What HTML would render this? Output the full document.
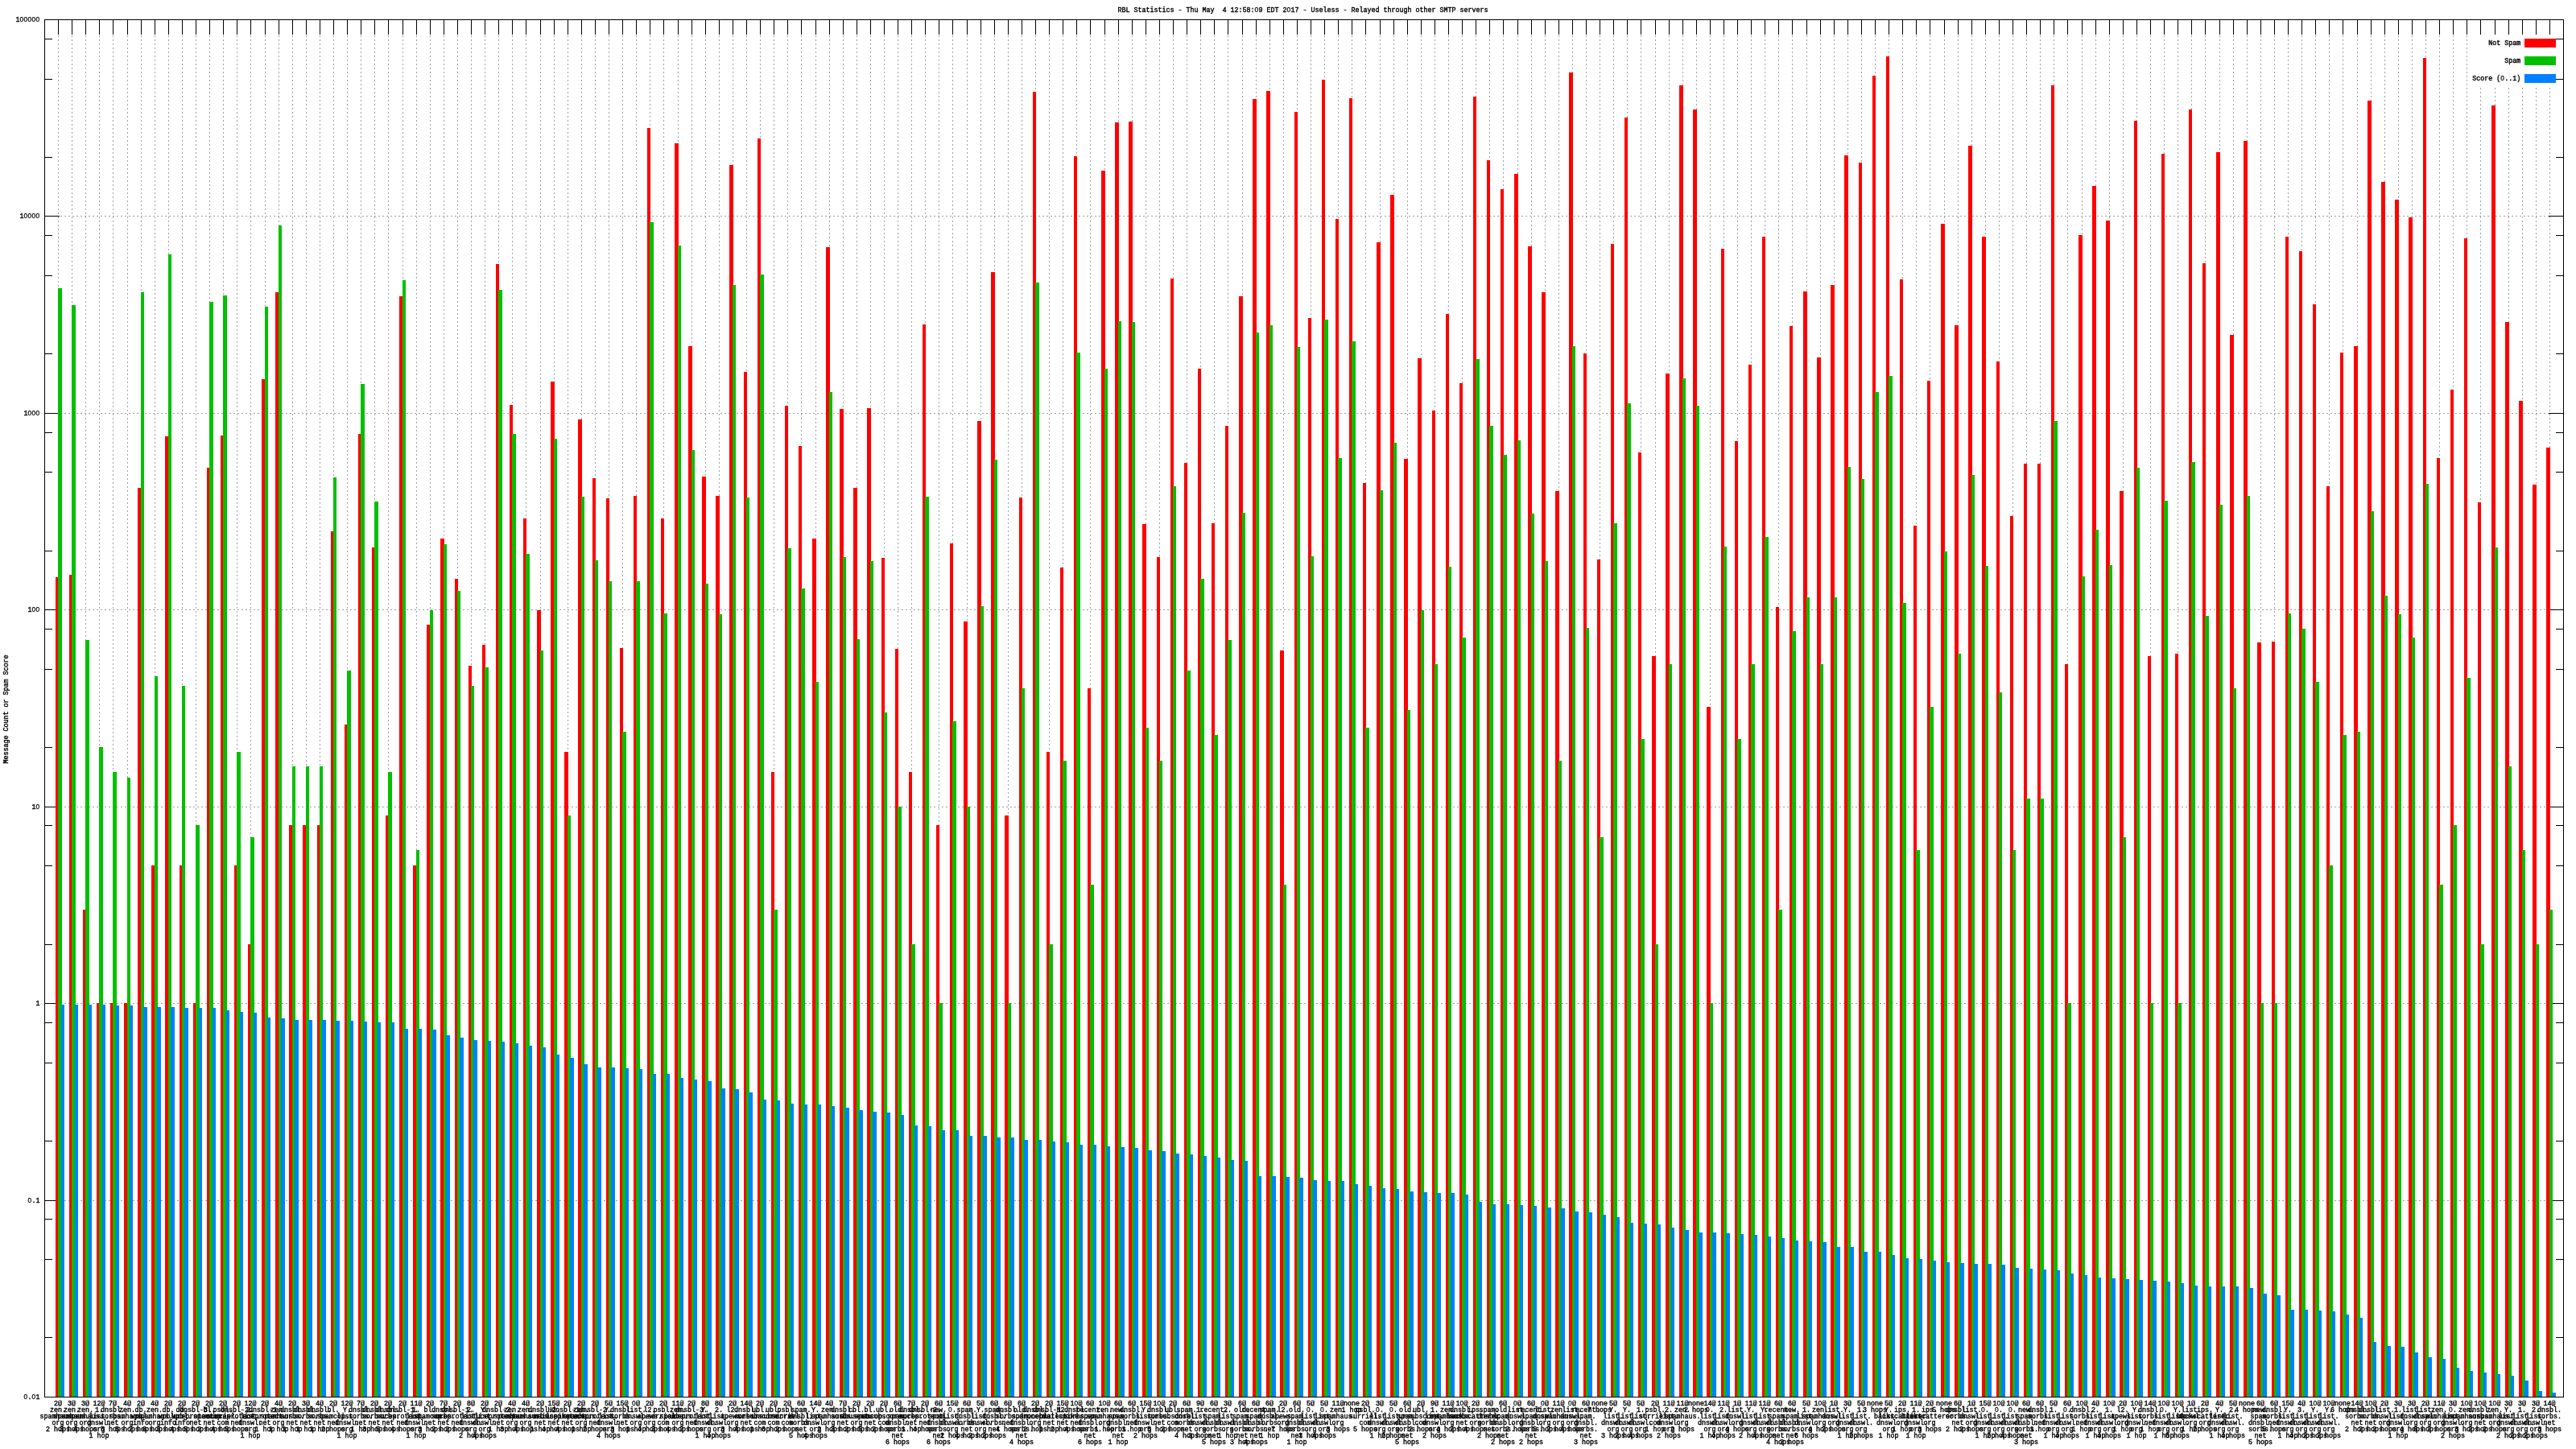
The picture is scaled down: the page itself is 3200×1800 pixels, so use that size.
<!DOCTYPE html>
<html lang="en"><head><meta charset="utf-8"><title>RBL Statistics</title>
<style>html,body{margin:0;padding:0;background:#fff}svg{display:block}text{font-family:'Liberation Mono','DejaVu Sans Mono',monospace;font-size:8.33px;fill:#000;stroke:#000;stroke-width:.4px}.m{text-anchor:middle}.e{text-anchor:end}.z{font-family:'Liberation Sans',sans-serif;font-size:8.4px;letter-spacing:.33px;stroke-width:.25px}.a{stroke-width:.18px}</style></head><body>
<svg width="3200" height="1800" viewBox="0 0 3200 1800" style="will-change:transform">
<g shape-rendering="crispEdges" stroke="#a0a0a0" stroke-width="1" fill="none" stroke-dasharray="2 3">
<path d="M72.5 44V1735M89.5 44V1735M106.5 44V1735M123.5 44V1735M140.5 44V1735M158.5 44V1735M175.5 44V1735M192.5 44V1735M209.5 44V1735M226.5 44V1735M243.5 44V1735M260.5 44V1735M277.5 44V1735M294.5 44V1735M311.5 44V1735M329.5 44V1735M346.5 44V1735M363.5 44V1735M380.5 44V1735M397.5 44V1735M414.5 44V1735M431.5 44V1735M448.5 44V1735M465.5 44V1735M482.5 44V1735M500.5 44V1735M517.5 44V1735M534.5 44V1735M551.5 44V1735M568.5 44V1735M585.5 44V1735M602.5 44V1735M619.5 44V1735M636.5 44V1735M653.5 44V1735M671.5 44V1735M688.5 44V1735M705.5 44V1735M722.5 44V1735M739.5 44V1735M756.5 44V1735M773.5 44V1735M790.5 44V1735M807.5 44V1735M824.5 44V1735M842.5 44V1735M859.5 44V1735M876.5 44V1735M893.5 44V1735M910.5 44V1735M927.5 44V1735M944.5 44V1735M961.5 44V1735M978.5 44V1735M995.5 44V1735M1013.5 44V1735M1030.5 44V1735M1047.5 44V1735M1064.5 44V1735M1081.5 44V1735M1098.5 44V1735M1115.5 44V1735M1132.5 44V1735M1149.5 44V1735M1166.5 44V1735M1183.5 44V1735M1201.5 44V1735M1218.5 44V1735M1235.5 44V1735M1252.5 44V1735M1269.5 44V1735M1286.5 44V1735M1303.5 44V1735M1320.5 44V1735M1337.5 44V1735M1354.5 44V1735M1372.5 44V1735M1389.5 44V1735M1406.5 44V1735M1423.5 44V1735M1440.5 44V1735M1457.5 44V1735M1474.5 44V1735M1491.5 44V1735M1508.5 44V1735M1525.5 44V1735M1543.5 44V1735M1560.5 44V1735M1577.5 44V1735M1594.5 44V1735M1611.5 44V1735M1628.5 44V1735M1645.5 44V1735M1662.5 44V1735M1679.5 44V1735M1696.5 44V1735M1714.5 44V1735M1731.5 44V1735M1748.5 44V1735M1765.5 44V1735M1782.5 44V1735M1799.5 44V1735M1816.5 44V1735M1833.5 44V1735M1850.5 44V1735M1867.5 44V1735M1885.5 44V1735M1902.5 44V1735M1919.5 44V1735M1936.5 44V1735M1953.5 44V1735M1970.5 44V1735M1987.5 44V1735M2004.5 44V1735M2021.5 44V1735M2038.5 44V1735M2056.5 44V1735M2073.5 44V1735M2090.5 44V1735M2107.5 44V1735M2124.5 44V1735M2141.5 44V1735M2158.5 44V1735M2175.5 44V1735M2192.5 44V1735M2209.5 44V1735M2226.5 44V1735M2244.5 44V1735M2261.5 44V1735M2278.5 44V1735M2295.5 44V1735M2312.5 44V1735M2329.5 44V1735M2346.5 44V1735M2363.5 44V1735M2380.5 44V1735M2397.5 44V1735M2415.5 44V1735M2432.5 44V1735M2449.5 44V1735M2466.5 44V1735M2483.5 44V1735M2500.5 44V1735M2517.5 44V1735M2534.5 44V1735M2551.5 44V1735M2568.5 44V1735M2586.5 44V1735M2603.5 44V1735M2620.5 44V1735M2637.5 44V1735M2654.5 44V1735M2671.5 44V1735M2688.5 44V1735M2705.5 44V1735M2722.5 44V1735M2739.5 44V1735M2757.5 44V1735M2774.5 44V1735M2791.5 44V1735M2808.5 44V1735M2825.5 44V1735M2842.5 44V1735M2859.5 44V1735M2876.5 44V1735M2893.5 44V1735M2910.5 44V1735M2928.5 44V1735M2945.5 44V1735M2962.5 44V1735M2979.5 44V1735M2996.5 44V1735M3013.5 44V1735M3030.5 44V1735M3047.5 44V1735M3064.5 44V1735M3081.5 44V1735M3099.5 44V1735M3116.5 44V1735M3133.5 44V1735M3150.5 44V1735M3167.5 44V1735"/>
<path d="M75 1491.5H3166M75 1246.5H3166M75 1002.5H3166M75 757.5H3166M75 513.5H3166M75 268.5H3166"/>
</g>
<rect x="3068" y="43" width="116" height="65" fill="#fff"/>
<g shape-rendering="crispEdges" fill="#000">
<rect x="72" y="24" width="1" height="19"/>
<rect x="89" y="24" width="1" height="19"/>
<rect x="106" y="24" width="1" height="19"/>
<rect x="123" y="24" width="1" height="19"/>
<rect x="140" y="24" width="1" height="19"/>
<rect x="158" y="24" width="1" height="19"/>
<rect x="175" y="24" width="1" height="19"/>
<rect x="192" y="24" width="1" height="19"/>
<rect x="209" y="24" width="1" height="19"/>
<rect x="226" y="24" width="1" height="19"/>
<rect x="243" y="24" width="1" height="19"/>
<rect x="260" y="24" width="1" height="19"/>
<rect x="277" y="24" width="1" height="19"/>
<rect x="294" y="24" width="1" height="19"/>
<rect x="311" y="24" width="1" height="19"/>
<rect x="329" y="24" width="1" height="19"/>
<rect x="346" y="24" width="1" height="19"/>
<rect x="363" y="24" width="1" height="19"/>
<rect x="380" y="24" width="1" height="19"/>
<rect x="397" y="24" width="1" height="19"/>
<rect x="414" y="24" width="1" height="19"/>
<rect x="431" y="24" width="1" height="19"/>
<rect x="448" y="24" width="1" height="19"/>
<rect x="465" y="24" width="1" height="19"/>
<rect x="482" y="24" width="1" height="19"/>
<rect x="500" y="24" width="1" height="19"/>
<rect x="517" y="24" width="1" height="19"/>
<rect x="534" y="24" width="1" height="19"/>
<rect x="551" y="24" width="1" height="19"/>
<rect x="568" y="24" width="1" height="19"/>
<rect x="585" y="24" width="1" height="19"/>
<rect x="602" y="24" width="1" height="19"/>
<rect x="619" y="24" width="1" height="19"/>
<rect x="636" y="24" width="1" height="19"/>
<rect x="653" y="24" width="1" height="19"/>
<rect x="671" y="24" width="1" height="19"/>
<rect x="688" y="24" width="1" height="19"/>
<rect x="705" y="24" width="1" height="19"/>
<rect x="722" y="24" width="1" height="19"/>
<rect x="739" y="24" width="1" height="19"/>
<rect x="756" y="24" width="1" height="19"/>
<rect x="773" y="24" width="1" height="19"/>
<rect x="790" y="24" width="1" height="19"/>
<rect x="807" y="24" width="1" height="19"/>
<rect x="824" y="24" width="1" height="19"/>
<rect x="842" y="24" width="1" height="19"/>
<rect x="859" y="24" width="1" height="19"/>
<rect x="876" y="24" width="1" height="19"/>
<rect x="893" y="24" width="1" height="19"/>
<rect x="910" y="24" width="1" height="19"/>
<rect x="927" y="24" width="1" height="19"/>
<rect x="944" y="24" width="1" height="19"/>
<rect x="961" y="24" width="1" height="19"/>
<rect x="978" y="24" width="1" height="19"/>
<rect x="995" y="24" width="1" height="19"/>
<rect x="1013" y="24" width="1" height="19"/>
<rect x="1030" y="24" width="1" height="19"/>
<rect x="1047" y="24" width="1" height="19"/>
<rect x="1064" y="24" width="1" height="19"/>
<rect x="1081" y="24" width="1" height="19"/>
<rect x="1098" y="24" width="1" height="19"/>
<rect x="1115" y="24" width="1" height="19"/>
<rect x="1132" y="24" width="1" height="19"/>
<rect x="1149" y="24" width="1" height="19"/>
<rect x="1166" y="24" width="1" height="19"/>
<rect x="1183" y="24" width="1" height="19"/>
<rect x="1201" y="24" width="1" height="19"/>
<rect x="1218" y="24" width="1" height="19"/>
<rect x="1235" y="24" width="1" height="19"/>
<rect x="1252" y="24" width="1" height="19"/>
<rect x="1269" y="24" width="1" height="19"/>
<rect x="1286" y="24" width="1" height="19"/>
<rect x="1303" y="24" width="1" height="19"/>
<rect x="1320" y="24" width="1" height="19"/>
<rect x="1337" y="24" width="1" height="19"/>
<rect x="1354" y="24" width="1" height="19"/>
<rect x="1372" y="24" width="1" height="19"/>
<rect x="1389" y="24" width="1" height="19"/>
<rect x="1406" y="24" width="1" height="19"/>
<rect x="1423" y="24" width="1" height="19"/>
<rect x="1440" y="24" width="1" height="19"/>
<rect x="1457" y="24" width="1" height="19"/>
<rect x="1474" y="24" width="1" height="19"/>
<rect x="1491" y="24" width="1" height="19"/>
<rect x="1508" y="24" width="1" height="19"/>
<rect x="1525" y="24" width="1" height="19"/>
<rect x="1543" y="24" width="1" height="19"/>
<rect x="1560" y="24" width="1" height="19"/>
<rect x="1577" y="24" width="1" height="19"/>
<rect x="1594" y="24" width="1" height="19"/>
<rect x="1611" y="24" width="1" height="19"/>
<rect x="1628" y="24" width="1" height="19"/>
<rect x="1645" y="24" width="1" height="19"/>
<rect x="1662" y="24" width="1" height="19"/>
<rect x="1679" y="24" width="1" height="19"/>
<rect x="1696" y="24" width="1" height="19"/>
<rect x="1714" y="24" width="1" height="19"/>
<rect x="1731" y="24" width="1" height="19"/>
<rect x="1748" y="24" width="1" height="19"/>
<rect x="1765" y="24" width="1" height="19"/>
<rect x="1782" y="24" width="1" height="19"/>
<rect x="1799" y="24" width="1" height="19"/>
<rect x="1816" y="24" width="1" height="19"/>
<rect x="1833" y="24" width="1" height="19"/>
<rect x="1850" y="24" width="1" height="19"/>
<rect x="1867" y="24" width="1" height="19"/>
<rect x="1885" y="24" width="1" height="19"/>
<rect x="1902" y="24" width="1" height="19"/>
<rect x="1919" y="24" width="1" height="19"/>
<rect x="1936" y="24" width="1" height="19"/>
<rect x="1953" y="24" width="1" height="19"/>
<rect x="1970" y="24" width="1" height="19"/>
<rect x="1987" y="24" width="1" height="19"/>
<rect x="2004" y="24" width="1" height="19"/>
<rect x="2021" y="24" width="1" height="19"/>
<rect x="2038" y="24" width="1" height="19"/>
<rect x="2056" y="24" width="1" height="19"/>
<rect x="2073" y="24" width="1" height="19"/>
<rect x="2090" y="24" width="1" height="19"/>
<rect x="2107" y="24" width="1" height="19"/>
<rect x="2124" y="24" width="1" height="19"/>
<rect x="2141" y="24" width="1" height="19"/>
<rect x="2158" y="24" width="1" height="19"/>
<rect x="2175" y="24" width="1" height="19"/>
<rect x="2192" y="24" width="1" height="19"/>
<rect x="2209" y="24" width="1" height="19"/>
<rect x="2226" y="24" width="1" height="19"/>
<rect x="2244" y="24" width="1" height="19"/>
<rect x="2261" y="24" width="1" height="19"/>
<rect x="2278" y="24" width="1" height="19"/>
<rect x="2295" y="24" width="1" height="19"/>
<rect x="2312" y="24" width="1" height="19"/>
<rect x="2329" y="24" width="1" height="19"/>
<rect x="2346" y="24" width="1" height="19"/>
<rect x="2363" y="24" width="1" height="19"/>
<rect x="2380" y="24" width="1" height="19"/>
<rect x="2397" y="24" width="1" height="19"/>
<rect x="2415" y="24" width="1" height="19"/>
<rect x="2432" y="24" width="1" height="19"/>
<rect x="2449" y="24" width="1" height="19"/>
<rect x="2466" y="24" width="1" height="19"/>
<rect x="2483" y="24" width="1" height="19"/>
<rect x="2500" y="24" width="1" height="19"/>
<rect x="2517" y="24" width="1" height="19"/>
<rect x="2534" y="24" width="1" height="19"/>
<rect x="2551" y="24" width="1" height="19"/>
<rect x="2568" y="24" width="1" height="19"/>
<rect x="2586" y="24" width="1" height="19"/>
<rect x="2603" y="24" width="1" height="19"/>
<rect x="2620" y="24" width="1" height="19"/>
<rect x="2637" y="24" width="1" height="19"/>
<rect x="2654" y="24" width="1" height="19"/>
<rect x="2671" y="24" width="1" height="19"/>
<rect x="2688" y="24" width="1" height="19"/>
<rect x="2705" y="24" width="1" height="19"/>
<rect x="2722" y="24" width="1" height="19"/>
<rect x="2739" y="24" width="1" height="19"/>
<rect x="2757" y="24" width="1" height="19"/>
<rect x="2774" y="24" width="1" height="19"/>
<rect x="2791" y="24" width="1" height="19"/>
<rect x="2808" y="24" width="1" height="19"/>
<rect x="2825" y="24" width="1" height="19"/>
<rect x="2842" y="24" width="1" height="19"/>
<rect x="2859" y="24" width="1" height="19"/>
<rect x="2876" y="24" width="1" height="19"/>
<rect x="2893" y="24" width="1" height="19"/>
<rect x="2910" y="24" width="1" height="19"/>
<rect x="2928" y="24" width="1" height="19"/>
<rect x="2945" y="24" width="1" height="19"/>
<rect x="2962" y="24" width="1" height="19"/>
<rect x="2979" y="24" width="1" height="19"/>
<rect x="2996" y="24" width="1" height="19"/>
<rect x="3013" y="24" width="1" height="19"/>
<rect x="3030" y="24" width="1" height="19"/>
<rect x="3047" y="24" width="1" height="19"/>
<rect x="3064" y="24" width="1" height="19"/>
<rect x="3081" y="24" width="1" height="19"/>
<rect x="3099" y="24" width="1" height="19"/>
<rect x="3116" y="24" width="1" height="19"/>
<rect x="3133" y="24" width="1" height="19"/>
<rect x="3150" y="24" width="1" height="19"/>
<rect x="3167" y="24" width="1" height="19"/>
<rect x="55" y="1735" width="19" height="1"/>
<rect x="3166" y="1735" width="19" height="1"/>
<rect x="55" y="1661" width="10" height="1"/>
<rect x="3175" y="1661" width="10" height="1"/>
<rect x="55" y="1564" width="10" height="1"/>
<rect x="3175" y="1564" width="10" height="1"/>
<rect x="55" y="1514" width="10" height="1"/>
<rect x="3175" y="1514" width="10" height="1"/>
<rect x="55" y="1491" width="19" height="1"/>
<rect x="3166" y="1491" width="19" height="1"/>
<rect x="55" y="1417" width="10" height="1"/>
<rect x="3175" y="1417" width="10" height="1"/>
<rect x="55" y="1320" width="10" height="1"/>
<rect x="3175" y="1320" width="10" height="1"/>
<rect x="55" y="1270" width="10" height="1"/>
<rect x="3175" y="1270" width="10" height="1"/>
<rect x="55" y="1246" width="19" height="1"/>
<rect x="3166" y="1246" width="19" height="1"/>
<rect x="55" y="1173" width="10" height="1"/>
<rect x="3175" y="1173" width="10" height="1"/>
<rect x="55" y="1075" width="10" height="1"/>
<rect x="3175" y="1075" width="10" height="1"/>
<rect x="55" y="1025" width="10" height="1"/>
<rect x="3175" y="1025" width="10" height="1"/>
<rect x="55" y="1002" width="19" height="1"/>
<rect x="3166" y="1002" width="19" height="1"/>
<rect x="55" y="928" width="10" height="1"/>
<rect x="3175" y="928" width="10" height="1"/>
<rect x="55" y="831" width="10" height="1"/>
<rect x="3175" y="831" width="10" height="1"/>
<rect x="55" y="781" width="10" height="1"/>
<rect x="3175" y="781" width="10" height="1"/>
<rect x="55" y="757" width="19" height="1"/>
<rect x="3166" y="757" width="19" height="1"/>
<rect x="55" y="684" width="10" height="1"/>
<rect x="3175" y="684" width="10" height="1"/>
<rect x="55" y="586" width="10" height="1"/>
<rect x="3175" y="586" width="10" height="1"/>
<rect x="55" y="537" width="10" height="1"/>
<rect x="3175" y="537" width="10" height="1"/>
<rect x="55" y="513" width="19" height="1"/>
<rect x="3166" y="513" width="19" height="1"/>
<rect x="55" y="439" width="10" height="1"/>
<rect x="3175" y="439" width="10" height="1"/>
<rect x="55" y="342" width="10" height="1"/>
<rect x="3175" y="342" width="10" height="1"/>
<rect x="55" y="292" width="10" height="1"/>
<rect x="3175" y="292" width="10" height="1"/>
<rect x="55" y="268" width="19" height="1"/>
<rect x="3166" y="268" width="19" height="1"/>
<rect x="55" y="195" width="10" height="1"/>
<rect x="3175" y="195" width="10" height="1"/>
<rect x="55" y="98" width="10" height="1"/>
<rect x="3175" y="98" width="10" height="1"/>
<rect x="55" y="48" width="10" height="1"/>
<rect x="3175" y="48" width="10" height="1"/>
<rect x="55" y="24" width="19" height="1"/>
<rect x="3166" y="24" width="19" height="1"/>
</g>
<g shape-rendering="crispEdges" fill="#ff0000">
<rect x="69" y="717" width="4" height="1019"/>
<rect x="86" y="714" width="4" height="1022"/>
<rect x="103" y="1130" width="4" height="606"/>
<rect x="120" y="1246" width="4" height="490"/>
<rect x="137" y="1246" width="4" height="490"/>
<rect x="154" y="1246" width="5" height="490"/>
<rect x="171" y="606" width="5" height="1130"/>
<rect x="188" y="1075" width="5" height="661"/>
<rect x="205" y="542" width="5" height="1194"/>
<rect x="223" y="1075" width="4" height="661"/>
<rect x="240" y="1246" width="4" height="490"/>
<rect x="257" y="581" width="4" height="1155"/>
<rect x="274" y="541" width="4" height="1195"/>
<rect x="291" y="1075" width="4" height="661"/>
<rect x="308" y="1173" width="4" height="563"/>
<rect x="325" y="471" width="5" height="1265"/>
<rect x="342" y="363" width="5" height="1373"/>
<rect x="359" y="1025" width="5" height="711"/>
<rect x="376" y="1025" width="5" height="711"/>
<rect x="394" y="1025" width="4" height="711"/>
<rect x="411" y="660" width="4" height="1076"/>
<rect x="428" y="900" width="4" height="836"/>
<rect x="445" y="539" width="4" height="1197"/>
<rect x="462" y="680" width="4" height="1056"/>
<rect x="479" y="1013" width="4" height="723"/>
<rect x="496" y="368" width="5" height="1368"/>
<rect x="513" y="1075" width="5" height="661"/>
<rect x="530" y="776" width="5" height="960"/>
<rect x="547" y="669" width="5" height="1067"/>
<rect x="565" y="719" width="4" height="1017"/>
<rect x="582" y="827" width="4" height="909"/>
<rect x="599" y="801" width="4" height="935"/>
<rect x="616" y="328" width="4" height="1408"/>
<rect x="633" y="503" width="4" height="1233"/>
<rect x="650" y="644" width="4" height="1092"/>
<rect x="667" y="758" width="5" height="978"/>
<rect x="684" y="474" width="5" height="1262"/>
<rect x="701" y="934" width="5" height="802"/>
<rect x="718" y="521" width="5" height="1215"/>
<rect x="736" y="594" width="4" height="1142"/>
<rect x="753" y="619" width="4" height="1117"/>
<rect x="770" y="805" width="4" height="931"/>
<rect x="787" y="616" width="4" height="1120"/>
<rect x="804" y="159" width="4" height="1577"/>
<rect x="821" y="644" width="4" height="1092"/>
<rect x="838" y="178" width="5" height="1558"/>
<rect x="855" y="430" width="5" height="1306"/>
<rect x="872" y="592" width="5" height="1144"/>
<rect x="889" y="616" width="5" height="1120"/>
<rect x="906" y="205" width="5" height="1531"/>
<rect x="924" y="462" width="4" height="1274"/>
<rect x="941" y="172" width="4" height="1564"/>
<rect x="958" y="959" width="4" height="777"/>
<rect x="975" y="504" width="4" height="1232"/>
<rect x="992" y="554" width="4" height="1182"/>
<rect x="1009" y="669" width="5" height="1067"/>
<rect x="1026" y="307" width="5" height="1429"/>
<rect x="1043" y="508" width="5" height="1228"/>
<rect x="1060" y="606" width="5" height="1130"/>
<rect x="1077" y="507" width="5" height="1229"/>
<rect x="1095" y="693" width="4" height="1043"/>
<rect x="1112" y="806" width="4" height="930"/>
<rect x="1129" y="959" width="4" height="777"/>
<rect x="1146" y="403" width="4" height="1333"/>
<rect x="1163" y="1025" width="4" height="711"/>
<rect x="1180" y="675" width="4" height="1061"/>
<rect x="1197" y="772" width="5" height="964"/>
<rect x="1214" y="523" width="5" height="1213"/>
<rect x="1231" y="338" width="5" height="1398"/>
<rect x="1248" y="1013" width="5" height="723"/>
<rect x="1266" y="618" width="4" height="1118"/>
<rect x="1283" y="114" width="4" height="1622"/>
<rect x="1300" y="934" width="4" height="802"/>
<rect x="1317" y="705" width="4" height="1031"/>
<rect x="1334" y="194" width="4" height="1542"/>
<rect x="1351" y="855" width="4" height="881"/>
<rect x="1368" y="212" width="5" height="1524"/>
<rect x="1385" y="152" width="5" height="1584"/>
<rect x="1402" y="151" width="5" height="1585"/>
<rect x="1419" y="651" width="5" height="1085"/>
<rect x="1437" y="692" width="4" height="1044"/>
<rect x="1454" y="346" width="4" height="1390"/>
<rect x="1471" y="575" width="4" height="1161"/>
<rect x="1488" y="458" width="4" height="1278"/>
<rect x="1505" y="650" width="4" height="1086"/>
<rect x="1522" y="529" width="4" height="1207"/>
<rect x="1539" y="368" width="5" height="1368"/>
<rect x="1556" y="123" width="5" height="1613"/>
<rect x="1573" y="113" width="5" height="1623"/>
<rect x="1590" y="808" width="5" height="928"/>
<rect x="1608" y="139" width="4" height="1597"/>
<rect x="1625" y="395" width="4" height="1341"/>
<rect x="1642" y="99" width="4" height="1637"/>
<rect x="1659" y="272" width="4" height="1464"/>
<rect x="1676" y="122" width="4" height="1614"/>
<rect x="1693" y="600" width="4" height="1136"/>
<rect x="1710" y="301" width="5" height="1435"/>
<rect x="1727" y="242" width="5" height="1494"/>
<rect x="1744" y="570" width="5" height="1166"/>
<rect x="1761" y="445" width="5" height="1291"/>
<rect x="1779" y="510" width="4" height="1226"/>
<rect x="1796" y="390" width="4" height="1346"/>
<rect x="1813" y="476" width="4" height="1260"/>
<rect x="1830" y="120" width="4" height="1616"/>
<rect x="1847" y="199" width="4" height="1537"/>
<rect x="1864" y="235" width="4" height="1501"/>
<rect x="1881" y="216" width="5" height="1520"/>
<rect x="1898" y="306" width="5" height="1430"/>
<rect x="1915" y="363" width="5" height="1373"/>
<rect x="1932" y="610" width="5" height="1126"/>
<rect x="1949" y="90" width="5" height="1646"/>
<rect x="1967" y="439" width="4" height="1297"/>
<rect x="1984" y="695" width="4" height="1041"/>
<rect x="2001" y="303" width="4" height="1433"/>
<rect x="2018" y="146" width="4" height="1590"/>
<rect x="2035" y="562" width="4" height="1174"/>
<rect x="2052" y="815" width="5" height="921"/>
<rect x="2069" y="464" width="5" height="1272"/>
<rect x="2086" y="106" width="5" height="1630"/>
<rect x="2103" y="136" width="5" height="1600"/>
<rect x="2120" y="878" width="5" height="858"/>
<rect x="2138" y="309" width="4" height="1427"/>
<rect x="2155" y="548" width="4" height="1188"/>
<rect x="2172" y="453" width="4" height="1283"/>
<rect x="2189" y="294" width="4" height="1442"/>
<rect x="2206" y="754" width="4" height="982"/>
<rect x="2223" y="405" width="4" height="1331"/>
<rect x="2240" y="362" width="5" height="1374"/>
<rect x="2257" y="444" width="5" height="1292"/>
<rect x="2274" y="354" width="5" height="1382"/>
<rect x="2291" y="193" width="5" height="1543"/>
<rect x="2309" y="202" width="4" height="1534"/>
<rect x="2326" y="94" width="4" height="1642"/>
<rect x="2343" y="70" width="4" height="1666"/>
<rect x="2360" y="347" width="4" height="1389"/>
<rect x="2377" y="653" width="4" height="1083"/>
<rect x="2394" y="473" width="4" height="1263"/>
<rect x="2411" y="278" width="5" height="1458"/>
<rect x="2428" y="404" width="5" height="1332"/>
<rect x="2445" y="181" width="5" height="1555"/>
<rect x="2462" y="294" width="5" height="1442"/>
<rect x="2480" y="449" width="4" height="1287"/>
<rect x="2497" y="641" width="4" height="1095"/>
<rect x="2514" y="576" width="4" height="1160"/>
<rect x="2531" y="576" width="4" height="1160"/>
<rect x="2548" y="106" width="4" height="1630"/>
<rect x="2565" y="825" width="4" height="911"/>
<rect x="2582" y="292" width="5" height="1444"/>
<rect x="2599" y="231" width="5" height="1505"/>
<rect x="2616" y="274" width="5" height="1462"/>
<rect x="2633" y="610" width="5" height="1126"/>
<rect x="2651" y="150" width="4" height="1586"/>
<rect x="2668" y="815" width="4" height="921"/>
<rect x="2685" y="191" width="4" height="1545"/>
<rect x="2702" y="812" width="4" height="924"/>
<rect x="2719" y="136" width="4" height="1600"/>
<rect x="2736" y="327" width="4" height="1409"/>
<rect x="2753" y="189" width="5" height="1547"/>
<rect x="2770" y="416" width="5" height="1320"/>
<rect x="2787" y="175" width="5" height="1561"/>
<rect x="2804" y="798" width="5" height="938"/>
<rect x="2822" y="797" width="4" height="939"/>
<rect x="2839" y="294" width="4" height="1442"/>
<rect x="2856" y="312" width="4" height="1424"/>
<rect x="2873" y="378" width="4" height="1358"/>
<rect x="2890" y="604" width="4" height="1132"/>
<rect x="2907" y="438" width="4" height="1298"/>
<rect x="2924" y="430" width="5" height="1306"/>
<rect x="2941" y="125" width="5" height="1611"/>
<rect x="2958" y="226" width="5" height="1510"/>
<rect x="2975" y="248" width="5" height="1488"/>
<rect x="2992" y="270" width="5" height="1466"/>
<rect x="3010" y="72" width="4" height="1664"/>
<rect x="3027" y="569" width="4" height="1167"/>
<rect x="3044" y="484" width="4" height="1252"/>
<rect x="3061" y="296" width="4" height="1440"/>
<rect x="3078" y="624" width="4" height="1112"/>
<rect x="3095" y="131" width="5" height="1605"/>
<rect x="3112" y="400" width="5" height="1336"/>
<rect x="3129" y="498" width="5" height="1238"/>
<rect x="3146" y="602" width="5" height="1134"/>
<rect x="3163" y="556" width="5" height="1180"/>
</g>
<g shape-rendering="crispEdges" fill="#00c000">
<rect x="72" y="358" width="5" height="1378"/>
<rect x="89" y="379" width="5" height="1357"/>
<rect x="106" y="795" width="5" height="941"/>
<rect x="123" y="928" width="5" height="808"/>
<rect x="140" y="959" width="5" height="777"/>
<rect x="158" y="966" width="4" height="770"/>
<rect x="175" y="363" width="4" height="1373"/>
<rect x="192" y="840" width="4" height="896"/>
<rect x="209" y="316" width="4" height="1420"/>
<rect x="226" y="852" width="4" height="884"/>
<rect x="243" y="1025" width="5" height="711"/>
<rect x="260" y="375" width="5" height="1361"/>
<rect x="277" y="367" width="5" height="1369"/>
<rect x="294" y="934" width="5" height="802"/>
<rect x="311" y="1040" width="5" height="696"/>
<rect x="329" y="381" width="4" height="1355"/>
<rect x="346" y="280" width="4" height="1456"/>
<rect x="363" y="952" width="4" height="784"/>
<rect x="380" y="952" width="4" height="784"/>
<rect x="397" y="952" width="4" height="784"/>
<rect x="414" y="593" width="4" height="1143"/>
<rect x="431" y="833" width="5" height="903"/>
<rect x="448" y="477" width="5" height="1259"/>
<rect x="465" y="623" width="5" height="1113"/>
<rect x="482" y="959" width="5" height="777"/>
<rect x="500" y="348" width="4" height="1388"/>
<rect x="517" y="1056" width="4" height="680"/>
<rect x="534" y="758" width="4" height="978"/>
<rect x="551" y="676" width="4" height="1060"/>
<rect x="568" y="734" width="4" height="1002"/>
<rect x="585" y="852" width="4" height="884"/>
<rect x="602" y="829" width="5" height="907"/>
<rect x="619" y="360" width="5" height="1376"/>
<rect x="636" y="539" width="5" height="1197"/>
<rect x="653" y="688" width="5" height="1048"/>
<rect x="671" y="808" width="4" height="928"/>
<rect x="688" y="545" width="4" height="1191"/>
<rect x="705" y="1013" width="4" height="723"/>
<rect x="722" y="617" width="4" height="1119"/>
<rect x="739" y="696" width="4" height="1040"/>
<rect x="756" y="722" width="4" height="1014"/>
<rect x="773" y="909" width="5" height="827"/>
<rect x="790" y="722" width="5" height="1014"/>
<rect x="807" y="276" width="5" height="1460"/>
<rect x="824" y="762" width="5" height="974"/>
<rect x="842" y="305" width="4" height="1431"/>
<rect x="859" y="559" width="4" height="1177"/>
<rect x="876" y="725" width="4" height="1011"/>
<rect x="893" y="763" width="4" height="973"/>
<rect x="910" y="354" width="4" height="1382"/>
<rect x="927" y="618" width="4" height="1118"/>
<rect x="944" y="341" width="5" height="1395"/>
<rect x="961" y="1130" width="5" height="606"/>
<rect x="978" y="681" width="5" height="1055"/>
<rect x="995" y="731" width="5" height="1005"/>
<rect x="1013" y="847" width="4" height="889"/>
<rect x="1030" y="487" width="4" height="1249"/>
<rect x="1047" y="692" width="4" height="1044"/>
<rect x="1064" y="794" width="4" height="942"/>
<rect x="1081" y="697" width="4" height="1039"/>
<rect x="1098" y="885" width="4" height="851"/>
<rect x="1115" y="1002" width="5" height="734"/>
<rect x="1132" y="1173" width="5" height="563"/>
<rect x="1149" y="617" width="5" height="1119"/>
<rect x="1166" y="1246" width="5" height="490"/>
<rect x="1183" y="896" width="5" height="840"/>
<rect x="1201" y="1002" width="4" height="734"/>
<rect x="1218" y="753" width="4" height="983"/>
<rect x="1235" y="571" width="4" height="1165"/>
<rect x="1252" y="1246" width="4" height="490"/>
<rect x="1269" y="855" width="4" height="881"/>
<rect x="1286" y="351" width="5" height="1385"/>
<rect x="1303" y="1173" width="5" height="563"/>
<rect x="1320" y="945" width="5" height="791"/>
<rect x="1337" y="438" width="5" height="1298"/>
<rect x="1354" y="1099" width="5" height="637"/>
<rect x="1372" y="458" width="4" height="1278"/>
<rect x="1389" y="399" width="4" height="1337"/>
<rect x="1406" y="400" width="4" height="1336"/>
<rect x="1423" y="904" width="4" height="832"/>
<rect x="1440" y="945" width="4" height="791"/>
<rect x="1457" y="604" width="4" height="1132"/>
<rect x="1474" y="833" width="5" height="903"/>
<rect x="1491" y="719" width="5" height="1017"/>
<rect x="1508" y="913" width="5" height="823"/>
<rect x="1525" y="795" width="5" height="941"/>
<rect x="1543" y="637" width="4" height="1099"/>
<rect x="1560" y="413" width="4" height="1323"/>
<rect x="1577" y="404" width="4" height="1332"/>
<rect x="1594" y="1099" width="4" height="637"/>
<rect x="1611" y="431" width="4" height="1305"/>
<rect x="1628" y="691" width="4" height="1045"/>
<rect x="1645" y="397" width="5" height="1339"/>
<rect x="1662" y="569" width="5" height="1167"/>
<rect x="1679" y="424" width="5" height="1312"/>
<rect x="1696" y="904" width="5" height="832"/>
<rect x="1714" y="609" width="4" height="1127"/>
<rect x="1731" y="550" width="4" height="1186"/>
<rect x="1748" y="882" width="4" height="854"/>
<rect x="1765" y="758" width="4" height="978"/>
<rect x="1782" y="825" width="4" height="911"/>
<rect x="1799" y="704" width="4" height="1032"/>
<rect x="1816" y="792" width="5" height="944"/>
<rect x="1833" y="446" width="5" height="1290"/>
<rect x="1850" y="529" width="5" height="1207"/>
<rect x="1867" y="565" width="5" height="1171"/>
<rect x="1885" y="547" width="4" height="1189"/>
<rect x="1902" y="638" width="4" height="1098"/>
<rect x="1919" y="697" width="4" height="1039"/>
<rect x="1936" y="945" width="4" height="791"/>
<rect x="1953" y="430" width="4" height="1306"/>
<rect x="1970" y="780" width="4" height="956"/>
<rect x="1987" y="1040" width="5" height="696"/>
<rect x="2004" y="650" width="5" height="1086"/>
<rect x="2021" y="501" width="5" height="1235"/>
<rect x="2038" y="918" width="5" height="818"/>
<rect x="2056" y="1173" width="4" height="563"/>
<rect x="2073" y="825" width="4" height="911"/>
<rect x="2090" y="470" width="4" height="1266"/>
<rect x="2107" y="504" width="4" height="1232"/>
<rect x="2124" y="1246" width="4" height="490"/>
<rect x="2141" y="679" width="4" height="1057"/>
<rect x="2158" y="918" width="5" height="818"/>
<rect x="2175" y="825" width="5" height="911"/>
<rect x="2192" y="667" width="5" height="1069"/>
<rect x="2209" y="1130" width="5" height="606"/>
<rect x="2226" y="784" width="5" height="952"/>
<rect x="2244" y="742" width="4" height="994"/>
<rect x="2261" y="825" width="4" height="911"/>
<rect x="2278" y="742" width="4" height="994"/>
<rect x="2295" y="580" width="4" height="1156"/>
<rect x="2312" y="595" width="4" height="1141"/>
<rect x="2329" y="487" width="5" height="1249"/>
<rect x="2346" y="467" width="5" height="1269"/>
<rect x="2363" y="749" width="5" height="987"/>
<rect x="2380" y="1056" width="5" height="680"/>
<rect x="2397" y="878" width="5" height="858"/>
<rect x="2415" y="685" width="4" height="1051"/>
<rect x="2432" y="812" width="4" height="924"/>
<rect x="2449" y="590" width="4" height="1146"/>
<rect x="2466" y="703" width="4" height="1033"/>
<rect x="2483" y="860" width="4" height="876"/>
<rect x="2500" y="1056" width="4" height="680"/>
<rect x="2517" y="992" width="5" height="744"/>
<rect x="2534" y="992" width="5" height="744"/>
<rect x="2551" y="523" width="5" height="1213"/>
<rect x="2568" y="1246" width="5" height="490"/>
<rect x="2586" y="716" width="4" height="1020"/>
<rect x="2603" y="658" width="4" height="1078"/>
<rect x="2620" y="702" width="4" height="1034"/>
<rect x="2637" y="1040" width="4" height="696"/>
<rect x="2654" y="581" width="4" height="1155"/>
<rect x="2671" y="1246" width="4" height="490"/>
<rect x="2688" y="622" width="5" height="1114"/>
<rect x="2705" y="1246" width="5" height="490"/>
<rect x="2722" y="574" width="5" height="1162"/>
<rect x="2739" y="765" width="5" height="971"/>
<rect x="2757" y="627" width="4" height="1109"/>
<rect x="2774" y="855" width="4" height="881"/>
<rect x="2791" y="616" width="4" height="1120"/>
<rect x="2808" y="1246" width="4" height="490"/>
<rect x="2825" y="1246" width="4" height="490"/>
<rect x="2842" y="762" width="4" height="974"/>
<rect x="2859" y="781" width="5" height="955"/>
<rect x="2876" y="847" width="5" height="889"/>
<rect x="2893" y="1075" width="5" height="661"/>
<rect x="2910" y="913" width="5" height="823"/>
<rect x="2928" y="909" width="4" height="827"/>
<rect x="2945" y="635" width="4" height="1101"/>
<rect x="2962" y="740" width="4" height="996"/>
<rect x="2979" y="763" width="4" height="973"/>
<rect x="2996" y="792" width="4" height="944"/>
<rect x="3013" y="601" width="4" height="1135"/>
<rect x="3030" y="1099" width="5" height="637"/>
<rect x="3047" y="1025" width="5" height="711"/>
<rect x="3064" y="842" width="5" height="894"/>
<rect x="3081" y="1173" width="5" height="563"/>
<rect x="3099" y="680" width="4" height="1056"/>
<rect x="3116" y="952" width="4" height="784"/>
<rect x="3133" y="1056" width="4" height="680"/>
<rect x="3150" y="1173" width="4" height="563"/>
<rect x="3167" y="1130" width="4" height="606"/>
</g>
<g shape-rendering="crispEdges" fill="#0080ff">
<rect x="76" y="1248" width="4" height="488"/>
<rect x="93" y="1248" width="4" height="488"/>
<rect x="110" y="1248" width="4" height="488"/>
<rect x="127" y="1248" width="4" height="488"/>
<rect x="144" y="1249" width="4" height="487"/>
<rect x="161" y="1249" width="4" height="487"/>
<rect x="178" y="1251" width="5" height="485"/>
<rect x="195" y="1251" width="5" height="485"/>
<rect x="212" y="1251" width="5" height="485"/>
<rect x="229" y="1252" width="5" height="484"/>
<rect x="247" y="1252" width="4" height="484"/>
<rect x="264" y="1252" width="4" height="484"/>
<rect x="281" y="1255" width="4" height="481"/>
<rect x="298" y="1257" width="4" height="479"/>
<rect x="315" y="1258" width="4" height="478"/>
<rect x="332" y="1264" width="4" height="472"/>
<rect x="349" y="1265" width="5" height="471"/>
<rect x="366" y="1267" width="5" height="469"/>
<rect x="383" y="1267" width="5" height="469"/>
<rect x="400" y="1267" width="5" height="469"/>
<rect x="417" y="1268" width="5" height="468"/>
<rect x="435" y="1268" width="4" height="468"/>
<rect x="452" y="1269" width="4" height="467"/>
<rect x="469" y="1270" width="4" height="466"/>
<rect x="486" y="1270" width="4" height="466"/>
<rect x="503" y="1278" width="4" height="458"/>
<rect x="520" y="1278" width="4" height="458"/>
<rect x="537" y="1279" width="5" height="457"/>
<rect x="554" y="1286" width="5" height="450"/>
<rect x="571" y="1289" width="5" height="447"/>
<rect x="588" y="1292" width="5" height="444"/>
<rect x="606" y="1293" width="4" height="443"/>
<rect x="623" y="1294" width="4" height="442"/>
<rect x="640" y="1296" width="4" height="440"/>
<rect x="657" y="1299" width="4" height="437"/>
<rect x="674" y="1301" width="4" height="435"/>
<rect x="691" y="1310" width="4" height="426"/>
<rect x="708" y="1314" width="5" height="422"/>
<rect x="725" y="1322" width="5" height="414"/>
<rect x="742" y="1326" width="5" height="410"/>
<rect x="759" y="1326" width="5" height="410"/>
<rect x="777" y="1327" width="4" height="409"/>
<rect x="794" y="1328" width="4" height="408"/>
<rect x="811" y="1334" width="4" height="402"/>
<rect x="828" y="1334" width="4" height="402"/>
<rect x="845" y="1339" width="4" height="397"/>
<rect x="862" y="1341" width="4" height="395"/>
<rect x="879" y="1343" width="5" height="393"/>
<rect x="896" y="1352" width="5" height="384"/>
<rect x="913" y="1353" width="5" height="383"/>
<rect x="930" y="1357" width="5" height="379"/>
<rect x="948" y="1366" width="4" height="370"/>
<rect x="965" y="1367" width="4" height="369"/>
<rect x="982" y="1371" width="4" height="365"/>
<rect x="999" y="1372" width="4" height="364"/>
<rect x="1016" y="1372" width="4" height="364"/>
<rect x="1033" y="1374" width="4" height="362"/>
<rect x="1050" y="1376" width="5" height="360"/>
<rect x="1067" y="1379" width="5" height="357"/>
<rect x="1084" y="1381" width="5" height="355"/>
<rect x="1101" y="1382" width="5" height="354"/>
<rect x="1119" y="1385" width="4" height="351"/>
<rect x="1136" y="1398" width="4" height="338"/>
<rect x="1153" y="1399" width="4" height="337"/>
<rect x="1170" y="1404" width="4" height="332"/>
<rect x="1187" y="1404" width="4" height="332"/>
<rect x="1204" y="1411" width="4" height="325"/>
<rect x="1221" y="1411" width="5" height="325"/>
<rect x="1238" y="1413" width="5" height="323"/>
<rect x="1255" y="1413" width="5" height="323"/>
<rect x="1272" y="1416" width="5" height="320"/>
<rect x="1290" y="1416" width="4" height="320"/>
<rect x="1307" y="1418" width="4" height="318"/>
<rect x="1324" y="1419" width="4" height="317"/>
<rect x="1341" y="1422" width="4" height="314"/>
<rect x="1358" y="1422" width="4" height="314"/>
<rect x="1375" y="1424" width="4" height="312"/>
<rect x="1392" y="1425" width="5" height="311"/>
<rect x="1409" y="1426" width="5" height="310"/>
<rect x="1426" y="1429" width="5" height="307"/>
<rect x="1443" y="1430" width="5" height="306"/>
<rect x="1460" y="1433" width="5" height="303"/>
<rect x="1478" y="1434" width="4" height="302"/>
<rect x="1495" y="1436" width="4" height="300"/>
<rect x="1512" y="1438" width="4" height="298"/>
<rect x="1529" y="1441" width="4" height="295"/>
<rect x="1546" y="1442" width="4" height="294"/>
<rect x="1563" y="1461" width="4" height="275"/>
<rect x="1580" y="1461" width="5" height="275"/>
<rect x="1597" y="1462" width="5" height="274"/>
<rect x="1614" y="1463" width="5" height="273"/>
<rect x="1631" y="1466" width="5" height="270"/>
<rect x="1649" y="1467" width="4" height="269"/>
<rect x="1666" y="1467" width="4" height="269"/>
<rect x="1683" y="1471" width="4" height="265"/>
<rect x="1700" y="1473" width="4" height="263"/>
<rect x="1717" y="1476" width="4" height="260"/>
<rect x="1734" y="1477" width="4" height="259"/>
<rect x="1751" y="1480" width="5" height="256"/>
<rect x="1768" y="1481" width="5" height="255"/>
<rect x="1785" y="1482" width="5" height="254"/>
<rect x="1802" y="1482" width="5" height="254"/>
<rect x="1820" y="1484" width="4" height="252"/>
<rect x="1837" y="1493" width="4" height="243"/>
<rect x="1854" y="1496" width="4" height="240"/>
<rect x="1871" y="1496" width="4" height="240"/>
<rect x="1888" y="1497" width="4" height="239"/>
<rect x="1905" y="1498" width="4" height="238"/>
<rect x="1922" y="1500" width="5" height="236"/>
<rect x="1939" y="1501" width="5" height="235"/>
<rect x="1956" y="1505" width="5" height="231"/>
<rect x="1973" y="1506" width="5" height="230"/>
<rect x="1991" y="1509" width="4" height="227"/>
<rect x="2008" y="1512" width="4" height="224"/>
<rect x="2025" y="1519" width="4" height="217"/>
<rect x="2042" y="1520" width="4" height="216"/>
<rect x="2059" y="1521" width="4" height="215"/>
<rect x="2076" y="1525" width="4" height="211"/>
<rect x="2093" y="1528" width="5" height="208"/>
<rect x="2110" y="1531" width="5" height="205"/>
<rect x="2127" y="1531" width="5" height="205"/>
<rect x="2144" y="1532" width="5" height="204"/>
<rect x="2162" y="1533" width="4" height="203"/>
<rect x="2179" y="1534" width="4" height="202"/>
<rect x="2196" y="1536" width="4" height="200"/>
<rect x="2213" y="1538" width="4" height="198"/>
<rect x="2230" y="1541" width="4" height="195"/>
<rect x="2247" y="1542" width="4" height="194"/>
<rect x="2264" y="1543" width="5" height="193"/>
<rect x="2281" y="1549" width="5" height="187"/>
<rect x="2298" y="1549" width="5" height="187"/>
<rect x="2315" y="1555" width="5" height="181"/>
<rect x="2333" y="1555" width="4" height="181"/>
<rect x="2350" y="1559" width="4" height="177"/>
<rect x="2367" y="1563" width="4" height="173"/>
<rect x="2384" y="1564" width="4" height="172"/>
<rect x="2401" y="1566" width="4" height="170"/>
<rect x="2418" y="1568" width="4" height="168"/>
<rect x="2435" y="1569" width="5" height="167"/>
<rect x="2452" y="1570" width="5" height="166"/>
<rect x="2469" y="1570" width="5" height="166"/>
<rect x="2486" y="1571" width="5" height="165"/>
<rect x="2503" y="1575" width="5" height="161"/>
<rect x="2521" y="1576" width="4" height="160"/>
<rect x="2538" y="1577" width="4" height="159"/>
<rect x="2555" y="1578" width="4" height="158"/>
<rect x="2572" y="1582" width="4" height="154"/>
<rect x="2589" y="1584" width="4" height="152"/>
<rect x="2606" y="1587" width="4" height="149"/>
<rect x="2623" y="1588" width="5" height="148"/>
<rect x="2640" y="1589" width="5" height="147"/>
<rect x="2657" y="1590" width="5" height="146"/>
<rect x="2674" y="1591" width="5" height="145"/>
<rect x="2692" y="1592" width="4" height="144"/>
<rect x="2709" y="1594" width="4" height="142"/>
<rect x="2726" y="1597" width="4" height="139"/>
<rect x="2743" y="1598" width="4" height="138"/>
<rect x="2760" y="1598" width="4" height="138"/>
<rect x="2777" y="1598" width="4" height="138"/>
<rect x="2794" y="1600" width="5" height="136"/>
<rect x="2811" y="1607" width="5" height="129"/>
<rect x="2828" y="1609" width="5" height="127"/>
<rect x="2845" y="1627" width="5" height="109"/>
<rect x="2863" y="1627" width="4" height="109"/>
<rect x="2880" y="1628" width="4" height="108"/>
<rect x="2897" y="1629" width="4" height="107"/>
<rect x="2914" y="1633" width="4" height="103"/>
<rect x="2931" y="1637" width="4" height="99"/>
<rect x="2948" y="1667" width="4" height="69"/>
<rect x="2965" y="1672" width="5" height="64"/>
<rect x="2982" y="1673" width="5" height="63"/>
<rect x="2999" y="1680" width="5" height="56"/>
<rect x="3016" y="1686" width="5" height="50"/>
<rect x="3034" y="1688" width="4" height="48"/>
<rect x="3051" y="1699" width="4" height="37"/>
<rect x="3068" y="1703" width="4" height="33"/>
<rect x="3085" y="1705" width="4" height="31"/>
<rect x="3102" y="1707" width="4" height="29"/>
<rect x="3119" y="1709" width="4" height="27"/>
<rect x="3136" y="1715" width="5" height="21"/>
<rect x="3153" y="1728" width="5" height="8"/>
<rect x="3170" y="1730" width="5" height="6"/>
</g>
<g shape-rendering="crispEdges" fill="#000">
<rect x="55" y="24" width="3130" height="1"/>
<rect x="55" y="1735" width="3130" height="1"/>
<rect x="55" y="24" width="1" height="1712"/>
<rect x="3184" y="24" width="1" height="1712"/>
</g>
<g shape-rendering="crispEdges">
<rect x="3136" y="48" width="39" height="11" fill="#ff0000"/>
<rect x="3136" y="70" width="39" height="11" fill="#00c000"/>
<rect x="3136" y="92" width="39" height="11" fill="#0080ff"/>
</g>
<text class="e" x="3131.3" y="56">Not Spam</text>
<text class="e" x="3131.3" y="78">Spam</text>
<text class="e" x="3131.3" y="100">Score (<tspan class="z">0</tspan>..1)</text>
<text class="m" x="1618.5" y="15" xml:space="preserve">RBL Statistics - Thu May  4 12:58:<tspan class="z">0</tspan>9 EDT 2<tspan class="z">0</tspan>17 - Useless - Relayed through other SMTP servers</text>
<text class="m" transform="translate(9.5 881) rotate(-90)">Message Count or Spam Score</text>
<text class="e" x="49.5" y="27">1<tspan class="z">0</tspan><tspan class="z">0</tspan><tspan class="z">0</tspan><tspan class="z">0</tspan><tspan class="z">0</tspan></text>
<text class="e" x="49.5" y="271">1<tspan class="z">0</tspan><tspan class="z">0</tspan><tspan class="z">0</tspan><tspan class="z">0</tspan></text>
<text class="e" x="49.5" y="516">1<tspan class="z">0</tspan><tspan class="z">0</tspan><tspan class="z">0</tspan></text>
<text class="e" x="49.5" y="760">1<tspan class="z">0</tspan><tspan class="z">0</tspan></text>
<text class="e" x="49.5" y="1005">1<tspan class="z">0</tspan></text>
<text class="e" x="49.5" y="1249">1</text>
<text class="e" x="49.5" y="1494"><tspan class="z">0</tspan>.1</text>
<text class="e" x="49.5" y="1738"><tspan class="z">0</tspan>.<tspan class="z">0</tspan>1</text>
<text class="m" x="72" y="1746"><tspan>2<tspan class="a">@</tspan></tspan><tspan x="72" dy="8">zen.</tspan><tspan x="72" dy="8">spamhaus.</tspan><tspan x="72" dy="8">org</tspan><tspan x="72" dy="8">2 hops</tspan></text>
<text class="m" x="89" y="1746"><tspan>3<tspan class="a">@</tspan></tspan><tspan x="89" dy="8">zen.</tspan><tspan x="89" dy="8">spamhaus.</tspan><tspan x="89" dy="8">org</tspan><tspan x="89" dy="8">3 hops</tspan></text>
<text class="m" x="106" y="1746"><tspan>3<tspan class="a">@</tspan></tspan><tspan x="106" dy="8">zen.</tspan><tspan x="106" dy="8">spamhaus.</tspan><tspan x="106" dy="8">org</tspan><tspan x="106" dy="8">4 hops</tspan></text>
<text class="m" x="123" y="1746"><tspan>12<tspan class="a">@</tspan></tspan><tspan x="123" dy="8">1.</tspan><tspan x="123" dy="8">list.</tspan><tspan x="123" dy="8">dnswl.</tspan><tspan x="123" dy="8">org</tspan><tspan x="123" dy="8">1 hop</tspan></text>
<text class="m" x="140" y="1746"><tspan>7<tspan class="a">@</tspan></tspan><tspan x="140" dy="8">dnsbl.</tspan><tspan x="140" dy="8">sorbs.</tspan><tspan x="140" dy="8">net</tspan><tspan x="140" dy="8">5 hops</tspan></text>
<text class="m" x="158" y="1746"><tspan>4<tspan class="a">@</tspan></tspan><tspan x="158" dy="8">zen.</tspan><tspan x="158" dy="8">spamhaus.</tspan><tspan x="158" dy="8">org</tspan><tspan x="158" dy="8">5 hops</tspan></text>
<text class="m" x="175" y="1746"><tspan>2<tspan class="a">@</tspan></tspan><tspan x="175" dy="8">db.</tspan><tspan x="175" dy="8">wpbl.</tspan><tspan x="175" dy="8">info</tspan><tspan x="175" dy="8">2 hops</tspan></text>
<text class="m" x="192" y="1746"><tspan>4<tspan class="a">@</tspan></tspan><tspan x="192" dy="8">zen.</tspan><tspan x="192" dy="8">spamhaus.</tspan><tspan x="192" dy="8">org</tspan><tspan x="192" dy="8">6 hops</tspan></text>
<text class="m" x="209" y="1746"><tspan>2<tspan class="a">@</tspan></tspan><tspan x="209" dy="8">db.</tspan><tspan x="209" dy="8">wpbl.</tspan><tspan x="209" dy="8">info</tspan><tspan x="209" dy="8">3 hops</tspan></text>
<text class="m" x="226" y="1746"><tspan>2<tspan class="a">@</tspan></tspan><tspan x="226" dy="8">db.</tspan><tspan x="226" dy="8">wpbl.</tspan><tspan x="226" dy="8">info</tspan><tspan x="226" dy="8">4 hops</tspan></text>
<text class="m" x="243" y="1746"><tspan>2<tspan class="a">@</tspan></tspan><tspan x="243" dy="8">dnsbl-3.</tspan><tspan x="243" dy="8">uceprotect.</tspan><tspan x="243" dy="8">net</tspan><tspan x="243" dy="8">5 hops</tspan></text>
<text class="m" x="260" y="1746"><tspan>2<tspan class="a">@</tspan></tspan><tspan x="260" dy="8">bl.</tspan><tspan x="260" dy="8">spamcop.</tspan><tspan x="260" dy="8">net</tspan><tspan x="260" dy="8">2 hops</tspan></text>
<text class="m" x="277" y="1746"><tspan>2<tspan class="a">@</tspan></tspan><tspan x="277" dy="8">psbl.</tspan><tspan x="277" dy="8">surriel.</tspan><tspan x="277" dy="8">com</tspan><tspan x="277" dy="8">4 hops</tspan></text>
<text class="m" x="294" y="1746"><tspan>2<tspan class="a">@</tspan></tspan><tspan x="294" dy="8">dnsbl-2.</tspan><tspan x="294" dy="8">uceprotect.</tspan><tspan x="294" dy="8">net</tspan><tspan x="294" dy="8">5 hops</tspan></text>
<text class="m" x="311" y="1746"><tspan>12<tspan class="a">@</tspan></tspan><tspan x="311" dy="8">2.</tspan><tspan x="311" dy="8">list.</tspan><tspan x="311" dy="8">dnswl.</tspan><tspan x="311" dy="8">org</tspan><tspan x="311" dy="8">1 hop</tspan></text>
<text class="m" x="329" y="1746"><tspan>2<tspan class="a">@</tspan></tspan><tspan x="329" dy="8">dnsbl-1.</tspan><tspan x="329" dy="8">uceprotect.</tspan><tspan x="329" dy="8">net</tspan><tspan x="329" dy="8">1 hop</tspan></text>
<text class="m" x="346" y="1746"><tspan>4<tspan class="a">@</tspan></tspan><tspan x="346" dy="8">zen.</tspan><tspan x="346" dy="8">spamhaus.</tspan><tspan x="346" dy="8">org</tspan><tspan x="346" dy="8">1 hop</tspan></text>
<text class="m" x="363" y="1746"><tspan>2<tspan class="a">@</tspan></tspan><tspan x="363" dy="8">dnsbl.</tspan><tspan x="363" dy="8">sorbs.</tspan><tspan x="363" dy="8">net</tspan><tspan x="363" dy="8">1 hop</tspan></text>
<text class="m" x="380" y="1746"><tspan>3<tspan class="a">@</tspan></tspan><tspan x="380" dy="8">dnsbl.</tspan><tspan x="380" dy="8">sorbs.</tspan><tspan x="380" dy="8">net</tspan><tspan x="380" dy="8">1 hop</tspan></text>
<text class="m" x="397" y="1746"><tspan>4<tspan class="a">@</tspan></tspan><tspan x="397" dy="8">dnsbl.</tspan><tspan x="397" dy="8">sorbs.</tspan><tspan x="397" dy="8">net</tspan><tspan x="397" dy="8">1 hop</tspan></text>
<text class="m" x="414" y="1746"><tspan>2<tspan class="a">@</tspan></tspan><tspan x="414" dy="8">bl.</tspan><tspan x="414" dy="8">spamcop.</tspan><tspan x="414" dy="8">net</tspan><tspan x="414" dy="8">2 hops</tspan></text>
<text class="m" x="431" y="1746"><tspan>12<tspan class="a">@</tspan></tspan><tspan x="431" dy="8">Y.</tspan><tspan x="431" dy="8">list.</tspan><tspan x="431" dy="8">dnswl.</tspan><tspan x="431" dy="8">org</tspan><tspan x="431" dy="8">1 hop</tspan></text>
<text class="m" x="448" y="1746"><tspan>7<tspan class="a">@</tspan></tspan><tspan x="448" dy="8">dnsbl.</tspan><tspan x="448" dy="8">sorbs.</tspan><tspan x="448" dy="8">net</tspan><tspan x="448" dy="8">1 hop</tspan></text>
<text class="m" x="465" y="1746"><tspan>2<tspan class="a">@</tspan></tspan><tspan x="465" dy="8">dnsbl.</tspan><tspan x="465" dy="8">sorbs.</tspan><tspan x="465" dy="8">net</tspan><tspan x="465" dy="8">3 hops</tspan></text>
<text class="m" x="482" y="1746"><tspan>2<tspan class="a">@</tspan></tspan><tspan x="482" dy="8">dnsbl.</tspan><tspan x="482" dy="8">sorbs.</tspan><tspan x="482" dy="8">net</tspan><tspan x="482" dy="8">5 hops</tspan></text>
<text class="m" x="500" y="1746"><tspan>2<tspan class="a">@</tspan></tspan><tspan x="500" dy="8">dnsbl-1.</tspan><tspan x="500" dy="8">uceprotect.</tspan><tspan x="500" dy="8">net</tspan><tspan x="500" dy="8">4 hops</tspan></text>
<text class="m" x="517" y="1746"><tspan>11<tspan class="a">@</tspan></tspan><tspan x="517" dy="8">1.</tspan><tspan x="517" dy="8">list.</tspan><tspan x="517" dy="8">dnswl.</tspan><tspan x="517" dy="8">org</tspan><tspan x="517" dy="8">1 hop</tspan></text>
<text class="m" x="534" y="1746"><tspan>2<tspan class="a">@</tspan></tspan><tspan x="534" dy="8">bl.</tspan><tspan x="534" dy="8">spamcop.</tspan><tspan x="534" dy="8">net</tspan><tspan x="534" dy="8">3 hops</tspan></text>
<text class="m" x="551" y="1746"><tspan>7<tspan class="a">@</tspan></tspan><tspan x="551" dy="8">dnsbl.</tspan><tspan x="551" dy="8">sorbs.</tspan><tspan x="551" dy="8">net</tspan><tspan x="551" dy="8">2 hops</tspan></text>
<text class="m" x="568" y="1746"><tspan>2<tspan class="a">@</tspan></tspan><tspan x="568" dy="8">dnsbl-1.</tspan><tspan x="568" dy="8">uceprotect.</tspan><tspan x="568" dy="8">net</tspan><tspan x="568" dy="8">2 hops</tspan></text>
<text class="m" x="585" y="1746"><tspan>8<tspan class="a">@</tspan></tspan><tspan x="585" dy="8">2.</tspan><tspan x="585" dy="8">list.</tspan><tspan x="585" dy="8">dnswl.</tspan><tspan x="585" dy="8">org</tspan><tspan x="585" dy="8">2 hops</tspan></text>
<text class="m" x="602" y="1746"><tspan>2<tspan class="a">@</tspan></tspan><tspan x="602" dy="8">Y.</tspan><tspan x="602" dy="8">list.</tspan><tspan x="602" dy="8">dnswl.</tspan><tspan x="602" dy="8">org</tspan><tspan x="602" dy="8">4 hops</tspan></text>
<text class="m" x="619" y="1746"><tspan>2<tspan class="a">@</tspan></tspan><tspan x="619" dy="8">dnsbl-2.</tspan><tspan x="619" dy="8">uceprotect.</tspan><tspan x="619" dy="8">net</tspan><tspan x="619" dy="8">1 hop</tspan></text>
<text class="m" x="636" y="1746"><tspan>4<tspan class="a">@</tspan></tspan><tspan x="636" dy="8">zen.</tspan><tspan x="636" dy="8">spamhaus.</tspan><tspan x="636" dy="8">org</tspan><tspan x="636" dy="8">3 hops</tspan></text>
<text class="m" x="653" y="1746"><tspan>4<tspan class="a">@</tspan></tspan><tspan x="653" dy="8">zen.</tspan><tspan x="653" dy="8">spamhaus.</tspan><tspan x="653" dy="8">org</tspan><tspan x="653" dy="8">4 hops</tspan></text>
<text class="m" x="671" y="1746"><tspan>2<tspan class="a">@</tspan></tspan><tspan x="671" dy="8">dnsbl.</tspan><tspan x="671" dy="8">sorbs.</tspan><tspan x="671" dy="8">net</tspan><tspan x="671" dy="8">1 hop</tspan></text>
<text class="m" x="688" y="1746"><tspan>15<tspan class="a">@</tspan></tspan><tspan x="688" dy="8">H2.</tspan><tspan x="688" dy="8">mailspike.</tspan><tspan x="688" dy="8">net</tspan><tspan x="688" dy="8">4 hops</tspan></text>
<text class="m" x="705" y="1746"><tspan>2<tspan class="a">@</tspan></tspan><tspan x="705" dy="8">dnsbl-1.</tspan><tspan x="705" dy="8">uceprotect.</tspan><tspan x="705" dy="8">net</tspan><tspan x="705" dy="8">4 hops</tspan></text>
<text class="m" x="722" y="1746"><tspan>2<tspan class="a">@</tspan></tspan><tspan x="722" dy="8">zen.</tspan><tspan x="722" dy="8">spamhaus.</tspan><tspan x="722" dy="8">org</tspan><tspan x="722" dy="8">1 hop</tspan></text>
<text class="m" x="739" y="1746"><tspan>2<tspan class="a">@</tspan></tspan><tspan x="739" dy="8">dnsbl-2.</tspan><tspan x="739" dy="8">uceprotect.</tspan><tspan x="739" dy="8">net</tspan><tspan x="739" dy="8">2 hops</tspan></text>
<text class="m" x="756" y="1746"><tspan>5<tspan class="a">@</tspan></tspan><tspan x="756" dy="8">Y.</tspan><tspan x="756" dy="8">list.</tspan><tspan x="756" dy="8">dnswl.</tspan><tspan x="756" dy="8">org</tspan><tspan x="756" dy="8">4 hops</tspan></text>
<text class="m" x="773" y="1746"><tspan>15<tspan class="a">@</tspan></tspan><tspan x="773" dy="8">dnsbl.</tspan><tspan x="773" dy="8">sorbs.</tspan><tspan x="773" dy="8">net</tspan><tspan x="773" dy="8">3 hops</tspan></text>
<text class="m" x="790" y="1746"><tspan><tspan class="z">0</tspan><tspan class="a">@</tspan></tspan><tspan x="790" dy="8">list.</tspan><tspan x="790" dy="8">dnswl.</tspan><tspan x="790" dy="8">org</tspan><tspan x="790" dy="8">1 hop</tspan></text>
<text class="m" x="807" y="1746"><tspan>2<tspan class="a">@</tspan></tspan><tspan x="807" dy="8">l2.</tspan><tspan x="807" dy="8">apews.</tspan><tspan x="807" dy="8">org</tspan><tspan x="807" dy="8">4 hops</tspan></text>
<text class="m" x="824" y="1746"><tspan>2<tspan class="a">@</tspan></tspan><tspan x="824" dy="8">psbl.</tspan><tspan x="824" dy="8">surriel.</tspan><tspan x="824" dy="8">com</tspan><tspan x="824" dy="8">3 hops</tspan></text>
<text class="m" x="842" y="1746"><tspan>11<tspan class="a">@</tspan></tspan><tspan x="842" dy="8">zen.</tspan><tspan x="842" dy="8">spamhaus.</tspan><tspan x="842" dy="8">org</tspan><tspan x="842" dy="8">4 hops</tspan></text>
<text class="m" x="859" y="1746"><tspan>2<tspan class="a">@</tspan></tspan><tspan x="859" dy="8">dnsbl-3.</tspan><tspan x="859" dy="8">uceprotect.</tspan><tspan x="859" dy="8">net</tspan><tspan x="859" dy="8">2 hops</tspan></text>
<text class="m" x="876" y="1746"><tspan>8<tspan class="a">@</tspan></tspan><tspan x="876" dy="8">Y.</tspan><tspan x="876" dy="8">list.</tspan><tspan x="876" dy="8">dnswl.</tspan><tspan x="876" dy="8">org</tspan><tspan x="876" dy="8">1 hop</tspan></text>
<text class="m" x="893" y="1746"><tspan>8<tspan class="a">@</tspan></tspan><tspan x="893" dy="8">2.</tspan><tspan x="893" dy="8">list.</tspan><tspan x="893" dy="8">dnswl.</tspan><tspan x="893" dy="8">org</tspan><tspan x="893" dy="8">4 hops</tspan></text>
<text class="m" x="910" y="1746"><tspan>2<tspan class="a">@</tspan></tspan><tspan x="910" dy="8">l2.</tspan><tspan x="910" dy="8">apews.</tspan><tspan x="910" dy="8">org</tspan><tspan x="910" dy="8">3 hops</tspan></text>
<text class="m" x="927" y="1746"><tspan>14<tspan class="a">@</tspan></tspan><tspan x="927" dy="8">dnsbl.</tspan><tspan x="927" dy="8">sorbs.</tspan><tspan x="927" dy="8">net</tspan><tspan x="927" dy="8">4 hops</tspan></text>
<text class="m" x="944" y="1746"><tspan>2<tspan class="a">@</tspan></tspan><tspan x="944" dy="8">ubl.</tspan><tspan x="944" dy="8">unsubscore.</tspan><tspan x="944" dy="8">com</tspan><tspan x="944" dy="8">1 hop</tspan></text>
<text class="m" x="961" y="1746"><tspan>2<tspan class="a">@</tspan></tspan><tspan x="961" dy="8">ubl.</tspan><tspan x="961" dy="8">unsubscore.</tspan><tspan x="961" dy="8">com</tspan><tspan x="961" dy="8">6 hops</tspan></text>
<text class="m" x="978" y="1746"><tspan>2<tspan class="a">@</tspan></tspan><tspan x="978" dy="8">psbl.</tspan><tspan x="978" dy="8">surriel.</tspan><tspan x="978" dy="8">com</tspan><tspan x="978" dy="8">2 hops</tspan></text>
<text class="m" x="995" y="1746"><tspan>6<tspan class="a">@</tspan></tspan><tspan x="995" dy="8">spam.</tspan><tspan x="995" dy="8">dnsbl.</tspan><tspan x="995" dy="8">sorbs.</tspan><tspan x="995" dy="8">net</tspan><tspan x="995" dy="8">5 hops</tspan></text>
<text class="m" x="1013" y="1746"><tspan>14<tspan class="a">@</tspan></tspan><tspan x="1013" dy="8">Y.</tspan><tspan x="1013" dy="8">list.</tspan><tspan x="1013" dy="8">dnswl.</tspan><tspan x="1013" dy="8">org</tspan><tspan x="1013" dy="8">4 hops</tspan></text>
<text class="m" x="1030" y="1746"><tspan>4<tspan class="a">@</tspan></tspan><tspan x="1030" dy="8">zen.</tspan><tspan x="1030" dy="8">spamhaus.</tspan><tspan x="1030" dy="8">org</tspan><tspan x="1030" dy="8">2 hops</tspan></text>
<text class="m" x="1047" y="1746"><tspan>7<tspan class="a">@</tspan></tspan><tspan x="1047" dy="8">dnsbl.</tspan><tspan x="1047" dy="8">sorbs.</tspan><tspan x="1047" dy="8">net</tspan><tspan x="1047" dy="8">3 hops</tspan></text>
<text class="m" x="1064" y="1746"><tspan>2<tspan class="a">@</tspan></tspan><tspan x="1064" dy="8">cbl.</tspan><tspan x="1064" dy="8">abuseat.</tspan><tspan x="1064" dy="8">org</tspan><tspan x="1064" dy="8">2 hops</tspan></text>
<text class="m" x="1081" y="1746"><tspan>2<tspan class="a">@</tspan></tspan><tspan x="1081" dy="8">bl.</tspan><tspan x="1081" dy="8">spamcop.</tspan><tspan x="1081" dy="8">net</tspan><tspan x="1081" dy="8">5 hops</tspan></text>
<text class="m" x="1098" y="1746"><tspan>2<tspan class="a">@</tspan></tspan><tspan x="1098" dy="8">ubl.</tspan><tspan x="1098" dy="8">unsubscore.</tspan><tspan x="1098" dy="8">com</tspan><tspan x="1098" dy="8">2 hops</tspan></text>
<text class="m" x="1115" y="1746"><tspan>6<tspan class="a">@</tspan></tspan><tspan x="1115" dy="8">old.</tspan><tspan x="1115" dy="8">spam.</tspan><tspan x="1115" dy="8">dnsbl.</tspan><tspan x="1115" dy="8">sorbs.</tspan><tspan x="1115" dy="8">net</tspan><tspan x="1115" dy="8">6 hops</tspan></text>
<text class="m" x="1132" y="1746"><tspan>7<tspan class="a">@</tspan></tspan><tspan x="1132" dy="8">dnsbl.</tspan><tspan x="1132" dy="8">sorbs.</tspan><tspan x="1132" dy="8">net</tspan><tspan x="1132" dy="8">1 hop</tspan></text>
<text class="m" x="1149" y="1746"><tspan>2<tspan class="a">@</tspan></tspan><tspan x="1149" dy="8">dnsbl-2.</tspan><tspan x="1149" dy="8">uceprotect.</tspan><tspan x="1149" dy="8">net</tspan><tspan x="1149" dy="8">4 hops</tspan></text>
<text class="m" x="1166" y="1746"><tspan>6<tspan class="a">@</tspan></tspan><tspan x="1166" dy="8">new.</tspan><tspan x="1166" dy="8">spam.</tspan><tspan x="1166" dy="8">dnsbl.</tspan><tspan x="1166" dy="8">sorbs.</tspan><tspan x="1166" dy="8">net</tspan><tspan x="1166" dy="8">6 hops</tspan></text>
<text class="m" x="1183" y="1746"><tspan>15<tspan class="a">@</tspan></tspan><tspan x="1183" dy="8"><tspan class="z">0</tspan>.</tspan><tspan x="1183" dy="8">list.</tspan><tspan x="1183" dy="8">dnswl.</tspan><tspan x="1183" dy="8">org</tspan><tspan x="1183" dy="8">2 hops</tspan></text>
<text class="m" x="1201" y="1746"><tspan>6<tspan class="a">@</tspan></tspan><tspan x="1201" dy="8">spam.</tspan><tspan x="1201" dy="8">dnsbl.</tspan><tspan x="1201" dy="8">sorbs.</tspan><tspan x="1201" dy="8">net</tspan><tspan x="1201" dy="8">4 hops</tspan></text>
<text class="m" x="1218" y="1746"><tspan>5<tspan class="a">@</tspan></tspan><tspan x="1218" dy="8">Y.</tspan><tspan x="1218" dy="8">list.</tspan><tspan x="1218" dy="8">dnswl.</tspan><tspan x="1218" dy="8">org</tspan><tspan x="1218" dy="8">2 hops</tspan></text>
<text class="m" x="1235" y="1746"><tspan>6<tspan class="a">@</tspan></tspan><tspan x="1235" dy="8">spam.</tspan><tspan x="1235" dy="8">dnsbl.</tspan><tspan x="1235" dy="8">sorbs.</tspan><tspan x="1235" dy="8">net</tspan><tspan x="1235" dy="8">2 hops</tspan></text>
<text class="m" x="1252" y="1746"><tspan>6<tspan class="a">@</tspan></tspan><tspan x="1252" dy="8">dnsbl.</tspan><tspan x="1252" dy="8">sorbs.</tspan><tspan x="1252" dy="8">net</tspan><tspan x="1252" dy="8">4 hops</tspan></text>
<text class="m" x="1269" y="1746"><tspan>6<tspan class="a">@</tspan></tspan><tspan x="1269" dy="8">old.</tspan><tspan x="1269" dy="8">spam.</tspan><tspan x="1269" dy="8">dnsbl.</tspan><tspan x="1269" dy="8">sorbs.</tspan><tspan x="1269" dy="8">net</tspan><tspan x="1269" dy="8">4 hops</tspan></text>
<text class="m" x="1286" y="1746"><tspan>2<tspan class="a">@</tspan></tspan><tspan x="1286" dy="8">dnsbl.</tspan><tspan x="1286" dy="8">dronebl.</tspan><tspan x="1286" dy="8">org</tspan><tspan x="1286" dy="8">2 hops</tspan></text>
<text class="m" x="1303" y="1746"><tspan>2<tspan class="a">@</tspan></tspan><tspan x="1303" dy="8">dnsbl-1.</tspan><tspan x="1303" dy="8">uceprotect.</tspan><tspan x="1303" dy="8">net</tspan><tspan x="1303" dy="8">1 hop</tspan></text>
<text class="m" x="1320" y="1746"><tspan>15<tspan class="a">@</tspan></tspan><tspan x="1320" dy="8">H2.</tspan><tspan x="1320" dy="8">mailspike.</tspan><tspan x="1320" dy="8">net</tspan><tspan x="1320" dy="8">2 hops</tspan></text>
<text class="m" x="1337" y="1746"><tspan>1<tspan class="z">0</tspan><tspan class="a">@</tspan></tspan><tspan x="1337" dy="8">dnsbl.</tspan><tspan x="1337" dy="8">sorbs.</tspan><tspan x="1337" dy="8">net</tspan><tspan x="1337" dy="8">4 hops</tspan></text>
<text class="m" x="1354" y="1746"><tspan>6<tspan class="a">@</tspan></tspan><tspan x="1354" dy="8">recent.</tspan><tspan x="1354" dy="8">spam.</tspan><tspan x="1354" dy="8">dnsbl.</tspan><tspan x="1354" dy="8">sorbs.</tspan><tspan x="1354" dy="8">net</tspan><tspan x="1354" dy="8">6 hops</tspan></text>
<text class="m" x="1372" y="1746"><tspan>1<tspan class="z">0</tspan><tspan class="a">@</tspan></tspan><tspan x="1372" dy="8">zen.</tspan><tspan x="1372" dy="8">spamhaus.</tspan><tspan x="1372" dy="8">org</tspan><tspan x="1372" dy="8">1 hop</tspan></text>
<text class="m" x="1389" y="1746"><tspan>6<tspan class="a">@</tspan></tspan><tspan x="1389" dy="8">new.</tspan><tspan x="1389" dy="8">spam.</tspan><tspan x="1389" dy="8">dnsbl.</tspan><tspan x="1389" dy="8">sorbs.</tspan><tspan x="1389" dy="8">net</tspan><tspan x="1389" dy="8">1 hop</tspan></text>
<text class="m" x="1406" y="1746"><tspan>6<tspan class="a">@</tspan></tspan><tspan x="1406" dy="8">dnsbl.</tspan><tspan x="1406" dy="8">sorbs.</tspan><tspan x="1406" dy="8">net</tspan><tspan x="1406" dy="8">1 hop</tspan></text>
<text class="m" x="1423" y="1746"><tspan>15<tspan class="a">@</tspan></tspan><tspan x="1423" dy="8">Y.</tspan><tspan x="1423" dy="8">list.</tspan><tspan x="1423" dy="8">dnswl.</tspan><tspan x="1423" dy="8">org</tspan><tspan x="1423" dy="8">2 hops</tspan></text>
<text class="m" x="1440" y="1746"><tspan>1<tspan class="z">0</tspan><tspan class="a">@</tspan></tspan><tspan x="1440" dy="8">dnsbl.</tspan><tspan x="1440" dy="8">sorbs.</tspan><tspan x="1440" dy="8">net</tspan><tspan x="1440" dy="8">5 hops</tspan></text>
<text class="m" x="1457" y="1746"><tspan>2<tspan class="a">@</tspan></tspan><tspan x="1457" dy="8">ubl.</tspan><tspan x="1457" dy="8">unsubscore.</tspan><tspan x="1457" dy="8">com</tspan><tspan x="1457" dy="8">2 hops</tspan></text>
<text class="m" x="1474" y="1746"><tspan>6<tspan class="a">@</tspan></tspan><tspan x="1474" dy="8">spam.</tspan><tspan x="1474" dy="8">dnsbl.</tspan><tspan x="1474" dy="8">sorbs.</tspan><tspan x="1474" dy="8">net</tspan><tspan x="1474" dy="8">4 hops</tspan></text>
<text class="m" x="1491" y="1746"><tspan>9<tspan class="a">@</tspan></tspan><tspan x="1491" dy="8">1.</tspan><tspan x="1491" dy="8">list.</tspan><tspan x="1491" dy="8">dnswl.</tspan><tspan x="1491" dy="8">org</tspan><tspan x="1491" dy="8">3 hops</tspan></text>
<text class="m" x="1508" y="1746"><tspan>6<tspan class="a">@</tspan></tspan><tspan x="1508" dy="8">recent.</tspan><tspan x="1508" dy="8">spam.</tspan><tspan x="1508" dy="8">dnsbl.</tspan><tspan x="1508" dy="8">sorbs.</tspan><tspan x="1508" dy="8">net</tspan><tspan x="1508" dy="8">5 hops</tspan></text>
<text class="m" x="1525" y="1746"><tspan>3<tspan class="a">@</tspan></tspan><tspan x="1525" dy="8">2.</tspan><tspan x="1525" dy="8">list.</tspan><tspan x="1525" dy="8">dnswl.</tspan><tspan x="1525" dy="8">org</tspan><tspan x="1525" dy="8">1 hop</tspan></text>
<text class="m" x="1543" y="1746"><tspan>6<tspan class="a">@</tspan></tspan><tspan x="1543" dy="8">old.</tspan><tspan x="1543" dy="8">spam.</tspan><tspan x="1543" dy="8">dnsbl.</tspan><tspan x="1543" dy="8">sorbs.</tspan><tspan x="1543" dy="8">net</tspan><tspan x="1543" dy="8">3 hops</tspan></text>
<text class="m" x="1560" y="1746"><tspan>6<tspan class="a">@</tspan></tspan><tspan x="1560" dy="8">recent.</tspan><tspan x="1560" dy="8">spam.</tspan><tspan x="1560" dy="8">dnsbl.</tspan><tspan x="1560" dy="8">sorbs.</tspan><tspan x="1560" dy="8">net</tspan><tspan x="1560" dy="8">4 hops</tspan></text>
<text class="m" x="1577" y="1746"><tspan>6<tspan class="a">@</tspan></tspan><tspan x="1577" dy="8">spam.</tspan><tspan x="1577" dy="8">dnsbl.</tspan><tspan x="1577" dy="8">sorbs.</tspan><tspan x="1577" dy="8">net</tspan><tspan x="1577" dy="8">1 hop</tspan></text>
<text class="m" x="1594" y="1746"><tspan>2<tspan class="a">@</tspan></tspan><tspan x="1594" dy="8">l2.</tspan><tspan x="1594" dy="8">apews.</tspan><tspan x="1594" dy="8">org</tspan><tspan x="1594" dy="8">7 hops</tspan></text>
<text class="m" x="1611" y="1746"><tspan>6<tspan class="a">@</tspan></tspan><tspan x="1611" dy="8">old.</tspan><tspan x="1611" dy="8">spam.</tspan><tspan x="1611" dy="8">dnsbl.</tspan><tspan x="1611" dy="8">sorbs.</tspan><tspan x="1611" dy="8">net</tspan><tspan x="1611" dy="8">1 hop</tspan></text>
<text class="m" x="1628" y="1746"><tspan>5<tspan class="a">@</tspan></tspan><tspan x="1628" dy="8"><tspan class="z">0</tspan>.</tspan><tspan x="1628" dy="8">list.</tspan><tspan x="1628" dy="8">dnswl.</tspan><tspan x="1628" dy="8">org</tspan><tspan x="1628" dy="8">3 hops</tspan></text>
<text class="m" x="1645" y="1746"><tspan>5<tspan class="a">@</tspan></tspan><tspan x="1645" dy="8"><tspan class="z">0</tspan>.</tspan><tspan x="1645" dy="8">list.</tspan><tspan x="1645" dy="8">dnswl.</tspan><tspan x="1645" dy="8">org</tspan><tspan x="1645" dy="8">4 hops</tspan></text>
<text class="m" x="1662" y="1746"><tspan>11<tspan class="a">@</tspan></tspan><tspan x="1662" dy="8">zen.</tspan><tspan x="1662" dy="8">spamhaus.</tspan><tspan x="1662" dy="8">org</tspan><tspan x="1662" dy="8">3 hops</tspan></text>
<text class="m" x="1679" y="1746"><tspan>none</tspan><tspan x="1679" dy="8">1 hop</tspan></text>
<text class="m" x="1696" y="1746"><tspan>2<tspan class="a">@</tspan></tspan><tspan x="1696" dy="8">psbl.</tspan><tspan x="1696" dy="8">surriel.</tspan><tspan x="1696" dy="8">com</tspan><tspan x="1696" dy="8">5 hops</tspan></text>
<text class="m" x="1714" y="1746"><tspan>3<tspan class="a">@</tspan></tspan><tspan x="1714" dy="8"><tspan class="z">0</tspan>.</tspan><tspan x="1714" dy="8">list.</tspan><tspan x="1714" dy="8">dnswl.</tspan><tspan x="1714" dy="8">org</tspan><tspan x="1714" dy="8">1 hop</tspan></text>
<text class="m" x="1731" y="1746"><tspan>5<tspan class="a">@</tspan></tspan><tspan x="1731" dy="8"><tspan class="z">0</tspan>.</tspan><tspan x="1731" dy="8">list.</tspan><tspan x="1731" dy="8">dnswl.</tspan><tspan x="1731" dy="8">org</tspan><tspan x="1731" dy="8">2 hops</tspan></text>
<text class="m" x="1748" y="1746"><tspan>6<tspan class="a">@</tspan></tspan><tspan x="1748" dy="8">old.</tspan><tspan x="1748" dy="8">spam.</tspan><tspan x="1748" dy="8">dnsbl.</tspan><tspan x="1748" dy="8">sorbs.</tspan><tspan x="1748" dy="8">net</tspan><tspan x="1748" dy="8">5 hops</tspan></text>
<text class="m" x="1765" y="1746"><tspan>2<tspan class="a">@</tspan></tspan><tspan x="1765" dy="8">ubl.</tspan><tspan x="1765" dy="8">unsubscore.</tspan><tspan x="1765" dy="8">com</tspan><tspan x="1765" dy="8">2 hops</tspan></text>
<text class="m" x="1782" y="1746"><tspan>9<tspan class="a">@</tspan></tspan><tspan x="1782" dy="8">1.</tspan><tspan x="1782" dy="8">list.</tspan><tspan x="1782" dy="8">dnswl.</tspan><tspan x="1782" dy="8">org</tspan><tspan x="1782" dy="8">2 hops</tspan></text>
<text class="m" x="1799" y="1746"><tspan>11<tspan class="a">@</tspan></tspan><tspan x="1799" dy="8">zen.</tspan><tspan x="1799" dy="8">spamhaus.</tspan><tspan x="1799" dy="8">org</tspan><tspan x="1799" dy="8">4 hops</tspan></text>
<text class="m" x="1816" y="1746"><tspan>1<tspan class="z">0</tspan><tspan class="a">@</tspan></tspan><tspan x="1816" dy="8">dnsbl.</tspan><tspan x="1816" dy="8">sorbs.</tspan><tspan x="1816" dy="8">net</tspan><tspan x="1816" dy="8">2 hops</tspan></text>
<text class="m" x="1833" y="1746"><tspan>2<tspan class="a">@</tspan></tspan><tspan x="1833" dy="8">ips.</tspan><tspan x="1833" dy="8">backscatterer.</tspan><tspan x="1833" dy="8">org</tspan><tspan x="1833" dy="8">4 hops</tspan></text>
<text class="m" x="1850" y="1746"><tspan>6<tspan class="a">@</tspan></tspan><tspan x="1850" dy="8">spam.</tspan><tspan x="1850" dy="8">dnsbl.</tspan><tspan x="1850" dy="8">sorbs.</tspan><tspan x="1850" dy="8">net</tspan><tspan x="1850" dy="8">2 hops</tspan></text>
<text class="m" x="1867" y="1746"><tspan>6<tspan class="a">@</tspan></tspan><tspan x="1867" dy="8">old.</tspan><tspan x="1867" dy="8">spam.</tspan><tspan x="1867" dy="8">dnsbl.</tspan><tspan x="1867" dy="8">sorbs.</tspan><tspan x="1867" dy="8">net</tspan><tspan x="1867" dy="8">2 hops</tspan></text>
<text class="m" x="1885" y="1746"><tspan><tspan class="z">0</tspan><tspan class="a">@</tspan></tspan><tspan x="1885" dy="8">list.</tspan><tspan x="1885" dy="8">dnswl.</tspan><tspan x="1885" dy="8">org</tspan><tspan x="1885" dy="8">2 hops</tspan></text>
<text class="m" x="1902" y="1746"><tspan>6<tspan class="a">@</tspan></tspan><tspan x="1902" dy="8">recent.</tspan><tspan x="1902" dy="8">spam.</tspan><tspan x="1902" dy="8">dnsbl.</tspan><tspan x="1902" dy="8">sorbs.</tspan><tspan x="1902" dy="8">net</tspan><tspan x="1902" dy="8">2 hops</tspan></text>
<text class="m" x="1919" y="1746"><tspan><tspan class="z">0</tspan><tspan class="a">@</tspan></tspan><tspan x="1919" dy="8">list.</tspan><tspan x="1919" dy="8">dnswl.</tspan><tspan x="1919" dy="8">org</tspan><tspan x="1919" dy="8">5 hops</tspan></text>
<text class="m" x="1936" y="1746"><tspan>11<tspan class="a">@</tspan></tspan><tspan x="1936" dy="8">zen.</tspan><tspan x="1936" dy="8">spamhaus.</tspan><tspan x="1936" dy="8">org</tspan><tspan x="1936" dy="8">2 hops</tspan></text>
<text class="m" x="1953" y="1746"><tspan><tspan class="z">0</tspan><tspan class="a">@</tspan></tspan><tspan x="1953" dy="8">list.</tspan><tspan x="1953" dy="8">dnswl.</tspan><tspan x="1953" dy="8">org</tspan><tspan x="1953" dy="8">4 hops</tspan></text>
<text class="m" x="1970" y="1746"><tspan>6<tspan class="a">@</tspan></tspan><tspan x="1970" dy="8">recent.</tspan><tspan x="1970" dy="8">spam.</tspan><tspan x="1970" dy="8">dnsbl.</tspan><tspan x="1970" dy="8">sorbs.</tspan><tspan x="1970" dy="8">net</tspan><tspan x="1970" dy="8">3 hops</tspan></text>
<text class="m" x="1987" y="1746"><tspan>none</tspan><tspan x="1987" dy="8">7 hops</tspan></text>
<text class="m" x="2004" y="1746"><tspan>5<tspan class="a">@</tspan></tspan><tspan x="2004" dy="8">Y.</tspan><tspan x="2004" dy="8">list.</tspan><tspan x="2004" dy="8">dnswl.</tspan><tspan x="2004" dy="8">org</tspan><tspan x="2004" dy="8">3 hops</tspan></text>
<text class="m" x="2021" y="1746"><tspan>5<tspan class="a">@</tspan></tspan><tspan x="2021" dy="8">Y.</tspan><tspan x="2021" dy="8">list.</tspan><tspan x="2021" dy="8">dnswl.</tspan><tspan x="2021" dy="8">org</tspan><tspan x="2021" dy="8">2 hops</tspan></text>
<text class="m" x="2038" y="1746"><tspan>5<tspan class="a">@</tspan></tspan><tspan x="2038" dy="8">1.</tspan><tspan x="2038" dy="8">list.</tspan><tspan x="2038" dy="8">dnswl.</tspan><tspan x="2038" dy="8">org</tspan><tspan x="2038" dy="8">4 hops</tspan></text>
<text class="m" x="2056" y="1746"><tspan>2<tspan class="a">@</tspan></tspan><tspan x="2056" dy="8">psbl.</tspan><tspan x="2056" dy="8">surriel.</tspan><tspan x="2056" dy="8">com</tspan><tspan x="2056" dy="8">1 hop</tspan></text>
<text class="m" x="2073" y="1746"><tspan>11<tspan class="a">@</tspan></tspan><tspan x="2073" dy="8">2.</tspan><tspan x="2073" dy="8">list.</tspan><tspan x="2073" dy="8">dnswl.</tspan><tspan x="2073" dy="8">org</tspan><tspan x="2073" dy="8">2 hops</tspan></text>
<text class="m" x="2090" y="1746"><tspan>11<tspan class="a">@</tspan></tspan><tspan x="2090" dy="8">zen.</tspan><tspan x="2090" dy="8">spamhaus.</tspan><tspan x="2090" dy="8">org</tspan><tspan x="2090" dy="8">2 hops</tspan></text>
<text class="m" x="2107" y="1746"><tspan>none</tspan><tspan x="2107" dy="8">2 hops</tspan></text>
<text class="m" x="2124" y="1746"><tspan>14<tspan class="a">@</tspan></tspan><tspan x="2124" dy="8"><tspan class="z">0</tspan>.</tspan><tspan x="2124" dy="8">list.</tspan><tspan x="2124" dy="8">dnswl.</tspan><tspan x="2124" dy="8">org</tspan><tspan x="2124" dy="8">1 hop</tspan></text>
<text class="m" x="2141" y="1746"><tspan>11<tspan class="a">@</tspan></tspan><tspan x="2141" dy="8">2.</tspan><tspan x="2141" dy="8">list.</tspan><tspan x="2141" dy="8">dnswl.</tspan><tspan x="2141" dy="8">org</tspan><tspan x="2141" dy="8">4 hops</tspan></text>
<text class="m" x="2158" y="1746"><tspan>1<tspan class="a">@</tspan></tspan><tspan x="2158" dy="8">list.</tspan><tspan x="2158" dy="8">dnswl.</tspan><tspan x="2158" dy="8">org</tspan><tspan x="2158" dy="8">4 hops</tspan></text>
<text class="m" x="2175" y="1746"><tspan>11<tspan class="a">@</tspan></tspan><tspan x="2175" dy="8">Y.</tspan><tspan x="2175" dy="8">list.</tspan><tspan x="2175" dy="8">dnswl.</tspan><tspan x="2175" dy="8">org</tspan><tspan x="2175" dy="8">2 hops</tspan></text>
<text class="m" x="2192" y="1746"><tspan>11<tspan class="a">@</tspan></tspan><tspan x="2192" dy="8">Y.</tspan><tspan x="2192" dy="8">list.</tspan><tspan x="2192" dy="8">dnswl.</tspan><tspan x="2192" dy="8">org</tspan><tspan x="2192" dy="8">4 hops</tspan></text>
<text class="m" x="2209" y="1746"><tspan>6<tspan class="a">@</tspan></tspan><tspan x="2209" dy="8">recent.</tspan><tspan x="2209" dy="8">spam.</tspan><tspan x="2209" dy="8">dnsbl.</tspan><tspan x="2209" dy="8">sorbs.</tspan><tspan x="2209" dy="8">net</tspan><tspan x="2209" dy="8">4 hops</tspan></text>
<text class="m" x="2226" y="1746"><tspan>6<tspan class="a">@</tspan></tspan><tspan x="2226" dy="8">new.</tspan><tspan x="2226" dy="8">spam.</tspan><tspan x="2226" dy="8">dnsbl.</tspan><tspan x="2226" dy="8">sorbs.</tspan><tspan x="2226" dy="8">net</tspan><tspan x="2226" dy="8">2 hops</tspan></text>
<text class="m" x="2244" y="1746"><tspan>5<tspan class="a">@</tspan></tspan><tspan x="2244" dy="8">1.</tspan><tspan x="2244" dy="8">list.</tspan><tspan x="2244" dy="8">dnswl.</tspan><tspan x="2244" dy="8">org</tspan><tspan x="2244" dy="8">6 hops</tspan></text>
<text class="m" x="2261" y="1746"><tspan>1<tspan class="z">0</tspan><tspan class="a">@</tspan></tspan><tspan x="2261" dy="8">zen.</tspan><tspan x="2261" dy="8">spamhaus.</tspan><tspan x="2261" dy="8">org</tspan><tspan x="2261" dy="8">4 hops</tspan></text>
<text class="m" x="2278" y="1746"><tspan>1<tspan class="a">@</tspan></tspan><tspan x="2278" dy="8">list.</tspan><tspan x="2278" dy="8">dnswl.</tspan><tspan x="2278" dy="8">org</tspan><tspan x="2278" dy="8">2 hops</tspan></text>
<text class="m" x="2295" y="1746"><tspan>3<tspan class="a">@</tspan></tspan><tspan x="2295" dy="8">Y.</tspan><tspan x="2295" dy="8">list.</tspan><tspan x="2295" dy="8">dnswl.</tspan><tspan x="2295" dy="8">org</tspan><tspan x="2295" dy="8">1 hop</tspan></text>
<text class="m" x="2312" y="1746"><tspan>5<tspan class="a">@</tspan></tspan><tspan x="2312" dy="8">1.</tspan><tspan x="2312" dy="8">list.</tspan><tspan x="2312" dy="8">dnswl.</tspan><tspan x="2312" dy="8">org</tspan><tspan x="2312" dy="8">2 hops</tspan></text>
<text class="m" x="2329" y="1746"><tspan>none</tspan><tspan x="2329" dy="8">3 hops</tspan></text>
<text class="m" x="2346" y="1746"><tspan>5<tspan class="a">@</tspan></tspan><tspan x="2346" dy="8">Y.</tspan><tspan x="2346" dy="8">list.</tspan><tspan x="2346" dy="8">dnswl.</tspan><tspan x="2346" dy="8">org</tspan><tspan x="2346" dy="8">1 hop</tspan></text>
<text class="m" x="2363" y="1746"><tspan>2<tspan class="a">@</tspan></tspan><tspan x="2363" dy="8">ips.</tspan><tspan x="2363" dy="8">backscatterer.</tspan><tspan x="2363" dy="8">org</tspan><tspan x="2363" dy="8">1 hop</tspan></text>
<text class="m" x="2380" y="1746"><tspan>11<tspan class="a">@</tspan></tspan><tspan x="2380" dy="8">1.</tspan><tspan x="2380" dy="8">list.</tspan><tspan x="2380" dy="8">dnswl.</tspan><tspan x="2380" dy="8">org</tspan><tspan x="2380" dy="8">1 hop</tspan></text>
<text class="m" x="2397" y="1746"><tspan>2<tspan class="a">@</tspan></tspan><tspan x="2397" dy="8">ips.</tspan><tspan x="2397" dy="8">backscatterer.</tspan><tspan x="2397" dy="8">org</tspan><tspan x="2397" dy="8">3 hops</tspan></text>
<text class="m" x="2415" y="1746"><tspan>none</tspan><tspan x="2415" dy="8">5 hops</tspan></text>
<text class="m" x="2432" y="1746"><tspan>6<tspan class="a">@</tspan></tspan><tspan x="2432" dy="8">dnsbl.</tspan><tspan x="2432" dy="8">sorbs.</tspan><tspan x="2432" dy="8">net</tspan><tspan x="2432" dy="8">2 hops</tspan></text>
<text class="m" x="2449" y="1746"><tspan>1<tspan class="a">@</tspan></tspan><tspan x="2449" dy="8">list.</tspan><tspan x="2449" dy="8">dnswl.</tspan><tspan x="2449" dy="8">org</tspan><tspan x="2449" dy="8">2 hops</tspan></text>
<text class="m" x="2466" y="1746"><tspan>15<tspan class="a">@</tspan></tspan><tspan x="2466" dy="8"><tspan class="z">0</tspan>.</tspan><tspan x="2466" dy="8">list.</tspan><tspan x="2466" dy="8">dnswl.</tspan><tspan x="2466" dy="8">org</tspan><tspan x="2466" dy="8">1 hop</tspan></text>
<text class="m" x="2483" y="1746"><tspan>1<tspan class="z">0</tspan><tspan class="a">@</tspan></tspan><tspan x="2483" dy="8"><tspan class="z">0</tspan>.</tspan><tspan x="2483" dy="8">list.</tspan><tspan x="2483" dy="8">dnswl.</tspan><tspan x="2483" dy="8">org</tspan><tspan x="2483" dy="8">2 hops</tspan></text>
<text class="m" x="2500" y="1746"><tspan>1<tspan class="z">0</tspan><tspan class="a">@</tspan></tspan><tspan x="2500" dy="8"><tspan class="z">0</tspan>.</tspan><tspan x="2500" dy="8">list.</tspan><tspan x="2500" dy="8">dnswl.</tspan><tspan x="2500" dy="8">org</tspan><tspan x="2500" dy="8">4 hops</tspan></text>
<text class="m" x="2517" y="1746"><tspan>6<tspan class="a">@</tspan></tspan><tspan x="2517" dy="8">new.</tspan><tspan x="2517" dy="8">spam.</tspan><tspan x="2517" dy="8">dnsbl.</tspan><tspan x="2517" dy="8">sorbs.</tspan><tspan x="2517" dy="8">net</tspan><tspan x="2517" dy="8">3 hops</tspan></text>
<text class="m" x="2534" y="1746"><tspan>6<tspan class="a">@</tspan></tspan><tspan x="2534" dy="8">dnsbl.</tspan><tspan x="2534" dy="8">sorbs.</tspan><tspan x="2534" dy="8">net</tspan><tspan x="2534" dy="8">1 hop</tspan></text>
<text class="m" x="2551" y="1746"><tspan>5<tspan class="a">@</tspan></tspan><tspan x="2551" dy="8">1.</tspan><tspan x="2551" dy="8">list.</tspan><tspan x="2551" dy="8">dnswl.</tspan><tspan x="2551" dy="8">org</tspan><tspan x="2551" dy="8">1 hop</tspan></text>
<text class="m" x="2568" y="1746"><tspan>6<tspan class="a">@</tspan></tspan><tspan x="2568" dy="8"><tspan class="z">0</tspan>.</tspan><tspan x="2568" dy="8">list.</tspan><tspan x="2568" dy="8">dnswl.</tspan><tspan x="2568" dy="8">org</tspan><tspan x="2568" dy="8">4 hops</tspan></text>
<text class="m" x="2586" y="1746"><tspan>1<tspan class="z">0</tspan><tspan class="a">@</tspan></tspan><tspan x="2586" dy="8">dnsbl.</tspan><tspan x="2586" dy="8">sorbs.</tspan><tspan x="2586" dy="8">net</tspan><tspan x="2586" dy="8">1 hop</tspan></text>
<text class="m" x="2603" y="1746"><tspan>4<tspan class="a">@</tspan></tspan><tspan x="2603" dy="8">2.</tspan><tspan x="2603" dy="8">list.</tspan><tspan x="2603" dy="8">dnswl.</tspan><tspan x="2603" dy="8">org</tspan><tspan x="2603" dy="8">1 hop</tspan></text>
<text class="m" x="2620" y="1746"><tspan>1<tspan class="z">0</tspan><tspan class="a">@</tspan></tspan><tspan x="2620" dy="8">1.</tspan><tspan x="2620" dy="8">list.</tspan><tspan x="2620" dy="8">dnswl.</tspan><tspan x="2620" dy="8">org</tspan><tspan x="2620" dy="8">4 hops</tspan></text>
<text class="m" x="2637" y="1746"><tspan>2<tspan class="a">@</tspan></tspan><tspan x="2637" dy="8">l2.</tspan><tspan x="2637" dy="8">apews.</tspan><tspan x="2637" dy="8">org</tspan><tspan x="2637" dy="8">1 hop</tspan></text>
<text class="m" x="2654" y="1746"><tspan>1<tspan class="z">0</tspan><tspan class="a">@</tspan></tspan><tspan x="2654" dy="8">Y.</tspan><tspan x="2654" dy="8">list.</tspan><tspan x="2654" dy="8">dnswl.</tspan><tspan x="2654" dy="8">org</tspan><tspan x="2654" dy="8">1 hop</tspan></text>
<text class="m" x="2671" y="1746"><tspan>14<tspan class="a">@</tspan></tspan><tspan x="2671" dy="8">dnsbl.</tspan><tspan x="2671" dy="8">sorbs.</tspan><tspan x="2671" dy="8">net</tspan><tspan x="2671" dy="8">1 hop</tspan></text>
<text class="m" x="2688" y="1746"><tspan>1<tspan class="z">0</tspan><tspan class="a">@</tspan></tspan><tspan x="2688" dy="8"><tspan class="z">0</tspan>.</tspan><tspan x="2688" dy="8">list.</tspan><tspan x="2688" dy="8">dnswl.</tspan><tspan x="2688" dy="8">org</tspan><tspan x="2688" dy="8">1 hop</tspan></text>
<text class="m" x="2705" y="1746"><tspan>1<tspan class="z">0</tspan><tspan class="a">@</tspan></tspan><tspan x="2705" dy="8">Y.</tspan><tspan x="2705" dy="8">list.</tspan><tspan x="2705" dy="8">dnswl.</tspan><tspan x="2705" dy="8">org</tspan><tspan x="2705" dy="8">5 hops</tspan></text>
<text class="m" x="2722" y="1746"><tspan>1<tspan class="a">@</tspan></tspan><tspan x="2722" dy="8">list.</tspan><tspan x="2722" dy="8">dnswl.</tspan><tspan x="2722" dy="8">org</tspan><tspan x="2722" dy="8">1 hop</tspan></text>
<text class="m" x="2739" y="1746"><tspan>2<tspan class="a">@</tspan></tspan><tspan x="2739" dy="8">ips.</tspan><tspan x="2739" dy="8">backscatterer.</tspan><tspan x="2739" dy="8">org</tspan><tspan x="2739" dy="8">2 hops</tspan></text>
<text class="m" x="2757" y="1746"><tspan>4<tspan class="a">@</tspan></tspan><tspan x="2757" dy="8">Y.</tspan><tspan x="2757" dy="8">list.</tspan><tspan x="2757" dy="8">dnswl.</tspan><tspan x="2757" dy="8">org</tspan><tspan x="2757" dy="8">1 hop</tspan></text>
<text class="m" x="2774" y="1746"><tspan>5<tspan class="a">@</tspan></tspan><tspan x="2774" dy="8">2.</tspan><tspan x="2774" dy="8">list.</tspan><tspan x="2774" dy="8">dnswl.</tspan><tspan x="2774" dy="8">org</tspan><tspan x="2774" dy="8">4 hops</tspan></text>
<text class="m" x="2791" y="1746"><tspan>none</tspan><tspan x="2791" dy="8">4 hops</tspan></text>
<text class="m" x="2808" y="1746"><tspan>6<tspan class="a">@</tspan></tspan><tspan x="2808" dy="8">new.</tspan><tspan x="2808" dy="8">spam.</tspan><tspan x="2808" dy="8">dnsbl.</tspan><tspan x="2808" dy="8">sorbs.</tspan><tspan x="2808" dy="8">net</tspan><tspan x="2808" dy="8">5 hops</tspan></text>
<text class="m" x="2825" y="1746"><tspan>6<tspan class="a">@</tspan></tspan><tspan x="2825" dy="8">dnsbl.</tspan><tspan x="2825" dy="8">sorbs.</tspan><tspan x="2825" dy="8">net</tspan><tspan x="2825" dy="8">5 hops</tspan></text>
<text class="m" x="2842" y="1746"><tspan>15<tspan class="a">@</tspan></tspan><tspan x="2842" dy="8">Y.</tspan><tspan x="2842" dy="8">list.</tspan><tspan x="2842" dy="8">dnswl.</tspan><tspan x="2842" dy="8">org</tspan><tspan x="2842" dy="8">1 hop</tspan></text>
<text class="m" x="2859" y="1746"><tspan>4<tspan class="a">@</tspan></tspan><tspan x="2859" dy="8">3.</tspan><tspan x="2859" dy="8">list.</tspan><tspan x="2859" dy="8">dnswl.</tspan><tspan x="2859" dy="8">org</tspan><tspan x="2859" dy="8">4 hops</tspan></text>
<text class="m" x="2876" y="1746"><tspan>1<tspan class="z">0</tspan><tspan class="a">@</tspan></tspan><tspan x="2876" dy="8">Y.</tspan><tspan x="2876" dy="8">list.</tspan><tspan x="2876" dy="8">dnswl.</tspan><tspan x="2876" dy="8">org</tspan><tspan x="2876" dy="8">2 hops</tspan></text>
<text class="m" x="2893" y="1746"><tspan>1<tspan class="z">0</tspan><tspan class="a">@</tspan></tspan><tspan x="2893" dy="8">Y.</tspan><tspan x="2893" dy="8">list.</tspan><tspan x="2893" dy="8">dnswl.</tspan><tspan x="2893" dy="8">org</tspan><tspan x="2893" dy="8">2 hops</tspan></text>
<text class="m" x="2910" y="1746"><tspan>none</tspan><tspan x="2910" dy="8">6 hops</tspan></text>
<text class="m" x="2928" y="1746"><tspan>14<tspan class="a">@</tspan></tspan><tspan x="2928" dy="8">dnsbl.</tspan><tspan x="2928" dy="8">sorbs.</tspan><tspan x="2928" dy="8">net</tspan><tspan x="2928" dy="8">2 hops</tspan></text>
<text class="m" x="2945" y="1746"><tspan>1<tspan class="z">0</tspan><tspan class="a">@</tspan></tspan><tspan x="2945" dy="8">dnsbl.</tspan><tspan x="2945" dy="8">sorbs.</tspan><tspan x="2945" dy="8">net</tspan><tspan x="2945" dy="8">2 hops</tspan></text>
<text class="m" x="2962" y="1746"><tspan>2<tspan class="a">@</tspan></tspan><tspan x="2962" dy="8">list.</tspan><tspan x="2962" dy="8">dnswl.</tspan><tspan x="2962" dy="8">org</tspan><tspan x="2962" dy="8">2 hops</tspan></text>
<text class="m" x="2979" y="1746"><tspan>3<tspan class="a">@</tspan></tspan><tspan x="2979" dy="8">1.</tspan><tspan x="2979" dy="8">list.</tspan><tspan x="2979" dy="8">dnswl.</tspan><tspan x="2979" dy="8">org</tspan><tspan x="2979" dy="8">1 hop</tspan></text>
<text class="m" x="2996" y="1746"><tspan>3<tspan class="a">@</tspan></tspan><tspan x="2996" dy="8">list.</tspan><tspan x="2996" dy="8">dnswl.</tspan><tspan x="2996" dy="8">org</tspan><tspan x="2996" dy="8">4 hops</tspan></text>
<text class="m" x="3013" y="1746"><tspan>2<tspan class="a">@</tspan></tspan><tspan x="3013" dy="8">list.</tspan><tspan x="3013" dy="8">dnswl.</tspan><tspan x="3013" dy="8">org</tspan><tspan x="3013" dy="8">6 hops</tspan></text>
<text class="m" x="3030" y="1746"><tspan>11<tspan class="a">@</tspan></tspan><tspan x="3030" dy="8">zen.</tspan><tspan x="3030" dy="8">spamhaus.</tspan><tspan x="3030" dy="8">org</tspan><tspan x="3030" dy="8">2 hops</tspan></text>
<text class="m" x="3047" y="1746"><tspan>3<tspan class="a">@</tspan></tspan><tspan x="3047" dy="8"><tspan class="z">0</tspan>.</tspan><tspan x="3047" dy="8">list.</tspan><tspan x="3047" dy="8">dnswl.</tspan><tspan x="3047" dy="8">org</tspan><tspan x="3047" dy="8">2 hops</tspan></text>
<text class="m" x="3064" y="1746"><tspan>1<tspan class="z">0</tspan><tspan class="a">@</tspan></tspan><tspan x="3064" dy="8">zen.</tspan><tspan x="3064" dy="8">spamhaus.</tspan><tspan x="3064" dy="8">org</tspan><tspan x="3064" dy="8">3 hops</tspan></text>
<text class="m" x="3081" y="1746"><tspan>1<tspan class="z">0</tspan><tspan class="a">@</tspan></tspan><tspan x="3081" dy="8">dnsbl.</tspan><tspan x="3081" dy="8">sorbs.</tspan><tspan x="3081" dy="8">net</tspan><tspan x="3081" dy="8">2 hops</tspan></text>
<text class="m" x="3099" y="1746"><tspan>1<tspan class="z">0</tspan><tspan class="a">@</tspan></tspan><tspan x="3099" dy="8">zen.</tspan><tspan x="3099" dy="8">spamhaus.</tspan><tspan x="3099" dy="8">org</tspan><tspan x="3099" dy="8">2 hops</tspan></text>
<text class="m" x="3116" y="1746"><tspan>3<tspan class="a">@</tspan></tspan><tspan x="3116" dy="8">Y.</tspan><tspan x="3116" dy="8">list.</tspan><tspan x="3116" dy="8">dnswl.</tspan><tspan x="3116" dy="8">org</tspan><tspan x="3116" dy="8">2 hops</tspan></text>
<text class="m" x="3133" y="1746"><tspan>3<tspan class="a">@</tspan></tspan><tspan x="3133" dy="8">1.</tspan><tspan x="3133" dy="8">list.</tspan><tspan x="3133" dy="8">dnswl.</tspan><tspan x="3133" dy="8">org</tspan><tspan x="3133" dy="8">2 hops</tspan></text>
<text class="m" x="3150" y="1746"><tspan>3<tspan class="a">@</tspan></tspan><tspan x="3150" dy="8">2.</tspan><tspan x="3150" dy="8">list.</tspan><tspan x="3150" dy="8">dnswl.</tspan><tspan x="3150" dy="8">org</tspan><tspan x="3150" dy="8">2 hops</tspan></text>
<text class="m" x="3167" y="1746"><tspan>14<tspan class="a">@</tspan></tspan><tspan x="3167" dy="8">dnsbl.</tspan><tspan x="3167" dy="8">sorbs.</tspan><tspan x="3167" dy="8">net</tspan><tspan x="3167" dy="8">3 hops</tspan></text>
</svg></body></html>
